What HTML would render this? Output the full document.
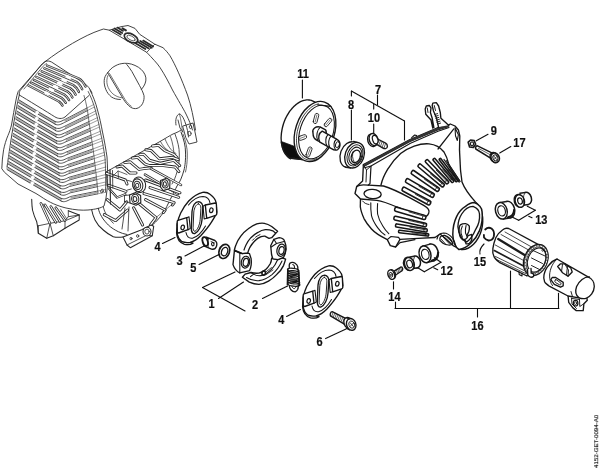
<!DOCTYPE html>
<html><head><meta charset="utf-8"><title>Parts diagram</title>
<style>
html,body{margin:0;padding:0;background:#fff;}
body{width:600px;height:472px;overflow:hidden;font-family:"Liberation Sans",sans-serif;}
svg{display:block;font-family:"Liberation Sans",sans-serif;}
</style></head><body>
<svg width="600" height="472" viewBox="0 0 600 472" stroke-linecap="round" stroke-linejoin="round">
<defs><filter id="soft" x="0" y="0" width="600" height="472" filterUnits="userSpaceOnUse"><feGaussianBlur stdDeviation="0.4"/></filter></defs>
<rect width="600" height="472" fill="#fff"/>
<g filter="url(#soft)">
<g id="cover">
<path d="M46,61 C60,50 85,35 100,30.2 L103.5,29 L109.3,30.2 L121,26.7 L128,25.5 L135,28.4 L139.7,34.3 L154.8,44.2 L163,47.7 C166,50.5 168,53 170,55.8 C175,64 182,80 187.5,95 C191,105 194,120 195.5,130" stroke="#333" stroke-width="0.92" fill="none" />
<path d="M109.3,30.2 L146.7,52.3 C152,58 157,63 160,67.5 C165,75 169,83 172.5,90 C178,100 183,108 186,114 C189,120 191,125 192.5,130" stroke="#333" stroke-width="0.92" fill="none" />
<path d="M146.7,52.3 L154.8,44.2" stroke="#333" stroke-width="0.8" fill="none" />
<path d="M112.5,29.8 l8.2,4.8" stroke="#2a2a2a" stroke-width="1.72" fill="none" />
<path d="M114.5,28.4 l7.7,4.6" stroke="#2a2a2a" stroke-width="1.72" fill="none" />
<path d="M117.5,27.6 l5.6,3.3" stroke="#2a2a2a" stroke-width="1.72" fill="none" />
<path d="M122.5,28.3 l3.4,2" stroke="#2a2a2a" stroke-width="2.07" fill="none" />
<ellipse cx="131" cy="38" rx="7.3" ry="4.0" stroke="#2a2a2a" stroke-width="1.72" fill="none" transform="rotate(27 131 38)"/>
<ellipse cx="131" cy="38" rx="4.6" ry="2.0" stroke="#2a2a2a" stroke-width="0.69" fill="none" transform="rotate(27 131 38)"/>
<path d="M135.5,43.2 l9.9,5.9" stroke="#2a2a2a" stroke-width="1.72" fill="none" />
<path d="M137.6,41.8 l11.2,6.6" stroke="#2a2a2a" stroke-width="1.72" fill="none" />
<path d="M140.2,40.9 l11.6,6.9" stroke="#2a2a2a" stroke-width="1.72" fill="none" />
<path d="M143.2,40.6 l9.9,5.9" stroke="#2a2a2a" stroke-width="1.72" fill="none" />
<path d="M107.7,72.8 C105.5,75 104.4,77.5 104.2,80.4 C104,83.5 104.6,86.5 105.8,89.4 C107,92.5 109,95 111.5,97 C114,98.6 117,99.5 120.4,99.5" stroke="#333" stroke-width="0.92" fill="none" />
<path d="M107.9,75.5 C106.6,78.5 106.6,82 107.3,85 C108.3,88.5 110.3,91.6 113,94 C115.5,96 118.5,97.3 121.8,97.8" stroke="#333" stroke-width="0.69" fill="none" />
<path d="M107.7,72.8 C109.5,70 112,67.5 115,66 C118,64.3 121,63.5 124.3,63.3 C129,63 134,64.5 138.5,67.3 C142.5,70 145.2,73.5 145.9,77.9 C146.3,82 144.5,86 141.4,89.4" stroke="#333" stroke-width="0.92" fill="none" />
<path d="M107.7,72.8 L123.6,99.5 C125.5,102.5 127.8,105.2 130.6,107.2 C132.8,108.6 135,108.9 137,108.4 C139.5,107.6 141.5,105.8 142.7,103.3 C143.8,101 144.3,98.5 144,95.7 C143,92 141.3,88.8 139.5,85.5 L131.9,71.5 C130.3,69 128.6,66.7 126.8,64.5" stroke="#333" stroke-width="0.92" fill="none" />
<path d="M109.5,73.5 L125.2,99.8 C127,102.6 129,104.8 131.2,106.2" stroke="#333" stroke-width="0.69" fill="none" />
<path d="M46,61 L42.5,64" stroke="#333" stroke-width="0.92" fill="none" />
<path d="M45.5,61.4 C47.5,60.6 49.5,61 51.5,62 L84.5,83.5 C87.5,85.5 90,88.5 92,93" stroke="#333" stroke-width="0.92" fill="none" />
<path d="M45.5,61.4 C44,62 43,63 42,64.2 L20.2,90.5 C19.3,92 19,93.5 19.3,95" stroke="#333" stroke-width="0.92" fill="none" />
<path d="M46.5,63.6 C44.8,64.4 43.6,65.6 42.8,66.6 L24,89 " stroke="#333" stroke-width="0.69" fill="none" />
<path d="M47.0,65.6 L79.0,78.5 Q82.5,80.3 85.5,86.5" stroke="#3a3a3a" stroke-width="2.42" fill="none" />
<path d="M47.0,65.6 L79.0,78.5 Q82.5,80.3 85.5,86.5" stroke="#e4e4e4" stroke-width="0.92" fill="none" />
<path d="M44.4,68.4 L76.1,81.8 Q79.4,83.6 82.2,89.2" stroke="#3a3a3a" stroke-width="2.42" fill="none" />
<path d="M44.4,68.4 L76.1,81.8 Q79.4,83.6 82.2,89.2" stroke="#e4e4e4" stroke-width="0.92" fill="none" />
<path d="M41.7,71.3 L73.3,85.1 Q76.4,86.9 78.9,91.9" stroke="#3a3a3a" stroke-width="2.42" fill="none" />
<path d="M41.7,71.3 L73.3,85.1 Q76.4,86.9 78.9,91.9" stroke="#e4e4e4" stroke-width="0.92" fill="none" />
<path d="M39.1,74.1 L70.4,88.4 Q73.3,90.2 75.6,94.6" stroke="#3a3a3a" stroke-width="2.42" fill="none" />
<path d="M39.1,74.1 L70.4,88.4 Q73.3,90.2 75.6,94.6" stroke="#e4e4e4" stroke-width="0.92" fill="none" />
<path d="M36.4,77.0 L67.6,91.6 Q70.3,93.4 72.4,97.4" stroke="#3a3a3a" stroke-width="2.42" fill="none" />
<path d="M36.4,77.0 L67.6,91.6 Q70.3,93.4 72.4,97.4" stroke="#e4e4e4" stroke-width="0.92" fill="none" />
<path d="M33.8,79.8 L64.7,94.9 Q67.2,96.7 69.1,100.1" stroke="#3a3a3a" stroke-width="2.42" fill="none" />
<path d="M33.8,79.8 L64.7,94.9 Q67.2,96.7 69.1,100.1" stroke="#e4e4e4" stroke-width="0.92" fill="none" />
<path d="M31.1,82.7 L61.9,98.2 Q64.2,100.0 65.8,102.8" stroke="#3a3a3a" stroke-width="2.42" fill="none" />
<path d="M31.1,82.7 L61.9,98.2 Q64.2,100.0 65.8,102.8" stroke="#e4e4e4" stroke-width="0.92" fill="none" />
<path d="M28.5,85.5 L59.0,101.5 Q61.1,103.3 62.5,105.5" stroke="#3a3a3a" stroke-width="2.42" fill="none" />
<path d="M28.5,85.5 L59.0,101.5 Q61.1,103.3 62.5,105.5" stroke="#e4e4e4" stroke-width="0.92" fill="none" />
<path d="M66.9,76.4 L69.7,77.7" stroke="#fff" stroke-width="2.99" fill="none" />
<path d="M62.7,79.7 L65.5,81.0" stroke="#fff" stroke-width="2.99" fill="none" />
<path d="M58.4,82.9 L61.2,84.2" stroke="#fff" stroke-width="2.99" fill="none" />
<path d="M54.2,86.2 L57.0,87.5" stroke="#fff" stroke-width="2.99" fill="none" />
<path d="M49.9,89.4 L52.7,90.7" stroke="#fff" stroke-width="2.99" fill="none" />
<path d="M45.7,92.7 L48.5,94.0" stroke="#fff" stroke-width="2.99" fill="none" />
<path d="M19.3,95 C26,99 48,112.5 54.8,116.8 C58,118.8 62,119.2 65,117 L89,95.5" stroke="#333" stroke-width="0.92" fill="none" />
<path d="M42,64.2 L18.2,91.5 C17.2,94 16.5,97 16,100 C14.5,108 12.8,117 11.5,125 C10.5,129 9.3,132.5 8,135.4 C6,140 4.6,145 3.6,149.8 C2.6,156 2,162 1.8,168.7 L4.5,172.3 L18,184 L36,193.5 L40,196 C50,203 58,206 66,208 C75,210 82,210.5 88,210 C96,209.2 101,208 104,206 L106,198 L107.5,186" stroke="#333" stroke-width="0.92" fill="none" />
<path d="M19.3,95 C16.5,106 13.5,124 11,140 C9.5,150 8,160 7,167" stroke="#333" stroke-width="0.92" fill="none" />
<path d="M90,90 C93,96 95.5,102 97.5,110 C99.5,117 101,124 102.5,132 C104.5,141 106,150 107,157 C107.6,166 107.8,176 107.5,186" stroke="#333" stroke-width="0.92" fill="none" />
<path d="M88.2,91.5 C91,97 93.5,103 95.6,111 C97.6,118 99.1,125 100.6,133 C102.6,142 104,151 105,158 C105.6,167 105.8,176 105.5,192" stroke="#333" stroke-width="0.8" fill="none" />
<path d="M18.8,101.3 Q37.1,112.5 55.0,122.8" stroke="#b4b4b4" stroke-width="2.07" fill="none" />
<path d="M19.1,100.0 Q37.1,111.2 55.0,121.5" stroke="#262626" stroke-width="0.8" fill="none" />
<path d="M18.6,102.6 Q37.1,113.8 55.0,124.1" stroke="#262626" stroke-width="0.8" fill="none" />
<path d="M55.0,121.5 C58.5,123.1 61.0,121.3 64.5,119.7 L86.8,108.1" stroke="#262626" stroke-width="0.8" fill="none" />
<path d="M55.0,124.3 C58.5,125.9 61.0,124.1 64.5,122.5 L86.8,110.9" stroke="#262626" stroke-width="0.8" fill="none" />
<path d="M64.5,121.1 L86.8,109.5" stroke="#a8a8a8" stroke-width="1.95" fill="none" stroke-linecap="butt"/>
<path d="M86.8,108.1 L93.8,104.5" stroke="#555" stroke-width="0.57" fill="none" />
<path d="M86.8,110.9 L93.8,107.3" stroke="#555" stroke-width="0.57" fill="none" />
<path d="M17.9,106.9 Q36.8,118.5 55.5,129.2" stroke="#b4b4b4" stroke-width="2.07" fill="none" />
<path d="M18.2,105.6 Q36.8,117.2 55.5,127.9" stroke="#262626" stroke-width="0.8" fill="none" />
<path d="M17.7,108.2 Q36.8,119.8 55.5,130.5" stroke="#262626" stroke-width="0.8" fill="none" />
<path d="M55.5,127.9 C59.0,129.5 61.5,127.7 65.0,126.1 L87.8,114.9" stroke="#262626" stroke-width="0.8" fill="none" />
<path d="M55.5,130.7 C59.0,132.3 61.5,130.5 65.0,128.9 L87.8,117.7" stroke="#262626" stroke-width="0.8" fill="none" />
<path d="M65.0,127.5 L87.8,116.3" stroke="#a8a8a8" stroke-width="1.95" fill="none" stroke-linecap="butt"/>
<path d="M87.8,114.9 L96.0,110.8" stroke="#555" stroke-width="0.57" fill="none" />
<path d="M87.8,117.7 L96.0,113.6" stroke="#555" stroke-width="0.57" fill="none" />
<path d="M16.9,112.5 Q36.6,124.5 56.0,135.6" stroke="#b4b4b4" stroke-width="2.07" fill="none" />
<path d="M17.2,111.2 Q36.6,123.2 56.0,134.3" stroke="#262626" stroke-width="0.8" fill="none" />
<path d="M16.7,113.8 Q36.6,125.8 56.0,136.9" stroke="#262626" stroke-width="0.8" fill="none" />
<path d="M56.0,134.3 C59.5,135.9 62.0,134.1 65.5,132.5 L88.8,121.7" stroke="#262626" stroke-width="0.8" fill="none" />
<path d="M56.0,137.1 C59.5,138.7 62.0,136.9 65.5,135.3 L88.8,124.5" stroke="#262626" stroke-width="0.8" fill="none" />
<path d="M65.5,133.9 L88.8,123.1" stroke="#a8a8a8" stroke-width="1.95" fill="none" stroke-linecap="butt"/>
<path d="M88.8,121.7 L97.5,117.6" stroke="#555" stroke-width="0.57" fill="none" />
<path d="M88.8,124.5 L97.5,120.4" stroke="#555" stroke-width="0.57" fill="none" />
<path d="M16.0,118.0 Q36.4,130.5 56.5,142.0" stroke="#b4b4b4" stroke-width="2.07" fill="none" />
<path d="M16.3,116.7 Q36.4,129.2 56.5,140.7" stroke="#262626" stroke-width="0.8" fill="none" />
<path d="M15.8,119.3 Q36.4,131.8 56.5,143.3" stroke="#262626" stroke-width="0.8" fill="none" />
<path d="M56.5,140.7 C60.0,142.3 62.5,140.5 66.0,138.9 L89.5,128.6" stroke="#262626" stroke-width="0.8" fill="none" />
<path d="M56.5,143.5 C60.0,145.1 62.5,143.3 66.0,141.7 L89.5,131.4" stroke="#262626" stroke-width="0.8" fill="none" />
<path d="M66.0,140.3 L89.5,130.0" stroke="#a8a8a8" stroke-width="1.95" fill="none" stroke-linecap="butt"/>
<path d="M89.5,128.6 L99.0,124.4" stroke="#555" stroke-width="0.57" fill="none" />
<path d="M89.5,131.4 L99.0,127.2" stroke="#555" stroke-width="0.57" fill="none" />
<path d="M15.0,123.6 Q36.2,136.5 57.0,148.4" stroke="#b4b4b4" stroke-width="2.07" fill="none" />
<path d="M15.3,122.3 Q36.2,135.2 57.0,147.1" stroke="#262626" stroke-width="0.8" fill="none" />
<path d="M14.8,124.9 Q36.2,137.8 57.0,149.7" stroke="#262626" stroke-width="0.8" fill="none" />
<path d="M57.0,147.1 C60.5,148.7 63.0,146.9 66.5,145.3 L90.5,135.4" stroke="#262626" stroke-width="0.8" fill="none" />
<path d="M57.0,149.9 C60.5,151.5 63.0,149.7 66.5,148.1 L90.5,138.2" stroke="#262626" stroke-width="0.8" fill="none" />
<path d="M66.5,146.7 L90.5,136.8" stroke="#a8a8a8" stroke-width="1.95" fill="none" stroke-linecap="butt"/>
<path d="M90.5,135.4 L100.8,131.1" stroke="#555" stroke-width="0.57" fill="none" />
<path d="M90.5,138.2 L100.8,133.9" stroke="#555" stroke-width="0.57" fill="none" />
<path d="M14.0,129.2 Q35.9,142.5 57.5,154.8" stroke="#b4b4b4" stroke-width="2.07" fill="none" />
<path d="M14.3,127.9 Q35.9,141.2 57.5,153.5" stroke="#262626" stroke-width="0.8" fill="none" />
<path d="M13.8,130.5 Q35.9,143.8 57.5,156.1" stroke="#262626" stroke-width="0.8" fill="none" />
<path d="M57.5,153.5 C61.0,155.1 63.5,153.3 67.0,151.7 L91.2,142.3" stroke="#262626" stroke-width="0.8" fill="none" />
<path d="M57.5,156.3 C61.0,157.9 63.5,156.1 67.0,154.5 L91.2,145.1" stroke="#262626" stroke-width="0.8" fill="none" />
<path d="M67.0,153.1 L91.2,143.7" stroke="#a8a8a8" stroke-width="1.95" fill="none" stroke-linecap="butt"/>
<path d="M91.2,142.3 L102.0,138.2" stroke="#555" stroke-width="0.57" fill="none" />
<path d="M91.2,145.1 L102.0,141.0" stroke="#555" stroke-width="0.57" fill="none" />
<path d="M13.1,134.8 Q35.7,148.5 58.0,161.2" stroke="#b4b4b4" stroke-width="2.07" fill="none" />
<path d="M13.4,133.5 Q35.7,147.2 58.0,159.9" stroke="#262626" stroke-width="0.8" fill="none" />
<path d="M12.9,136.1 Q35.7,149.8 58.0,162.5" stroke="#262626" stroke-width="0.8" fill="none" />
<path d="M58.0,159.9 C61.5,161.5 64.0,159.7 67.5,158.1 L92.2,149.2" stroke="#262626" stroke-width="0.8" fill="none" />
<path d="M58.0,162.7 C61.5,164.3 64.0,162.5 67.5,160.9 L92.2,152.0" stroke="#262626" stroke-width="0.8" fill="none" />
<path d="M67.5,159.5 L92.2,150.6" stroke="#a8a8a8" stroke-width="1.95" fill="none" stroke-linecap="butt"/>
<path d="M92.2,149.2 L103.2,145.2" stroke="#555" stroke-width="0.57" fill="none" />
<path d="M92.2,152.0 L103.2,148.0" stroke="#555" stroke-width="0.57" fill="none" />
<path d="M12.1,140.4 Q35.5,154.5 58.5,167.6" stroke="#b4b4b4" stroke-width="2.07" fill="none" />
<path d="M12.4,139.1 Q35.5,153.2 58.5,166.3" stroke="#262626" stroke-width="0.8" fill="none" />
<path d="M11.9,141.7 Q35.5,155.8 58.5,168.9" stroke="#262626" stroke-width="0.8" fill="none" />
<path d="M58.5,166.3 C62.0,167.9 64.5,166.1 68.0,164.5 L93.0,156.2" stroke="#262626" stroke-width="0.8" fill="none" />
<path d="M58.5,169.1 C62.0,170.7 64.5,168.9 68.0,167.3 L93.0,159.0" stroke="#262626" stroke-width="0.8" fill="none" />
<path d="M68.0,165.9 L93.0,157.6" stroke="#a8a8a8" stroke-width="1.95" fill="none" stroke-linecap="butt"/>
<path d="M93.0,156.2 L104.5,152.3" stroke="#555" stroke-width="0.57" fill="none" />
<path d="M93.0,159.0 L104.5,155.1" stroke="#555" stroke-width="0.57" fill="none" />
<path d="M11.2,145.9 Q35.2,160.5 59.0,174.0" stroke="#b4b4b4" stroke-width="2.07" fill="none" />
<path d="M11.5,144.6 Q35.2,159.2 59.0,172.7" stroke="#262626" stroke-width="0.8" fill="none" />
<path d="M11.0,147.2 Q35.2,161.8 59.0,175.3" stroke="#262626" stroke-width="0.8" fill="none" />
<path d="M59.0,172.7 C62.5,174.3 65.0,172.5 68.5,170.9 L94.0,163.1" stroke="#262626" stroke-width="0.8" fill="none" />
<path d="M59.0,175.5 C62.5,177.1 65.0,175.3 68.5,173.7 L94.0,165.9" stroke="#262626" stroke-width="0.8" fill="none" />
<path d="M68.5,172.3 L94.0,164.5" stroke="#a8a8a8" stroke-width="1.95" fill="none" stroke-linecap="butt"/>
<path d="M94.0,163.1 L105.5,159.6" stroke="#555" stroke-width="0.57" fill="none" />
<path d="M94.0,165.9 L105.5,162.4" stroke="#555" stroke-width="0.57" fill="none" />
<path d="M10.2,151.5 Q35.0,166.5 59.5,180.4" stroke="#b4b4b4" stroke-width="2.07" fill="none" />
<path d="M10.5,150.2 Q35.0,165.2 59.5,179.1" stroke="#262626" stroke-width="0.8" fill="none" />
<path d="M10.0,152.8 Q35.0,167.8 59.5,181.7" stroke="#262626" stroke-width="0.8" fill="none" />
<path d="M59.5,179.1 C63.0,180.7 65.5,178.9 69.0,177.3 L94.8,170.1" stroke="#262626" stroke-width="0.8" fill="none" />
<path d="M59.5,181.9 C63.0,183.5 65.5,181.7 69.0,180.1 L94.8,172.9" stroke="#262626" stroke-width="0.8" fill="none" />
<path d="M69.0,178.7 L94.8,171.5" stroke="#a8a8a8" stroke-width="1.95" fill="none" stroke-linecap="butt"/>
<path d="M94.8,170.1 L105.8,167.0" stroke="#555" stroke-width="0.57" fill="none" />
<path d="M94.8,172.9 L105.8,169.8" stroke="#555" stroke-width="0.57" fill="none" />
<path d="M9.2,157.1 Q34.8,172.5 60.0,186.8" stroke="#b4b4b4" stroke-width="2.07" fill="none" />
<path d="M9.5,155.8 Q34.8,171.2 60.0,185.5" stroke="#262626" stroke-width="0.8" fill="none" />
<path d="M9.0,158.4 Q34.8,173.8 60.0,188.1" stroke="#262626" stroke-width="0.8" fill="none" />
<path d="M60.0,185.5 C63.5,187.1 66.0,185.3 69.5,183.7 L95.8,177.1" stroke="#262626" stroke-width="0.8" fill="none" />
<path d="M60.0,188.3 C63.5,189.9 66.0,188.1 69.5,186.5 L95.8,179.9" stroke="#262626" stroke-width="0.8" fill="none" />
<path d="M69.5,185.1 L95.8,178.5" stroke="#a8a8a8" stroke-width="1.95" fill="none" stroke-linecap="butt"/>
<path d="M95.8,177.1 L106.0,174.5" stroke="#555" stroke-width="0.57" fill="none" />
<path d="M95.8,179.9 L106.0,177.3" stroke="#555" stroke-width="0.57" fill="none" />
<path d="M8.3,162.7 Q34.5,178.4 60.5,193.2" stroke="#b4b4b4" stroke-width="2.07" fill="none" />
<path d="M8.6,161.4 Q34.5,177.1 60.5,191.9" stroke="#262626" stroke-width="0.8" fill="none" />
<path d="M8.1,164.0 Q34.5,179.7 60.5,194.5" stroke="#262626" stroke-width="0.8" fill="none" />
<path d="M60.5,191.9 C64.0,193.5 66.5,191.7 70.0,190.1 L96.8,184.0" stroke="#262626" stroke-width="0.8" fill="none" />
<path d="M60.5,194.7 C64.0,196.3 66.5,194.5 70.0,192.9 L96.8,186.8" stroke="#262626" stroke-width="0.8" fill="none" />
<path d="M70.0,191.5 L96.8,185.4" stroke="#a8a8a8" stroke-width="1.95" fill="none" stroke-linecap="butt"/>
<path d="M96.8,184.0 L106.0,181.9" stroke="#555" stroke-width="0.57" fill="none" />
<path d="M96.8,186.8 L106.0,184.7" stroke="#555" stroke-width="0.57" fill="none" />
<path d="M7.3,168.3 Q34.3,184.4 61.0,199.6" stroke="#b4b4b4" stroke-width="2.07" fill="none" />
<path d="M7.6,167.0 Q34.3,183.1 61.0,198.3" stroke="#262626" stroke-width="0.8" fill="none" />
<path d="M7.1,169.6 Q34.3,185.7 61.0,200.9" stroke="#262626" stroke-width="0.8" fill="none" />
<path d="M61.0,198.3 C64.5,199.9 67.0,198.1 70.5,196.5 L97.5,191.1" stroke="#262626" stroke-width="0.8" fill="none" />
<path d="M61.0,201.1 C64.5,202.7 67.0,200.9 70.5,199.3 L97.5,193.9" stroke="#262626" stroke-width="0.8" fill="none" />
<path d="M70.5,197.9 L97.5,192.5" stroke="#a8a8a8" stroke-width="1.95" fill="none" stroke-linecap="butt"/>
<path d="M97.5,191.1 L106.0,189.4" stroke="#555" stroke-width="0.57" fill="none" />
<path d="M97.5,193.9 L106.0,192.2" stroke="#555" stroke-width="0.57" fill="none" />
<path d="M35.7,111.8 L38.5,113.5" stroke="#fff" stroke-width="3.22" fill="none" stroke-linecap="butt"/>
<path d="M35.3,117.7 L38.1,119.4" stroke="#fff" stroke-width="3.22" fill="none" stroke-linecap="butt"/>
<path d="M34.9,123.6 L37.7,125.3" stroke="#fff" stroke-width="3.22" fill="none" stroke-linecap="butt"/>
<path d="M34.5,129.5 L37.3,131.2" stroke="#fff" stroke-width="3.22" fill="none" stroke-linecap="butt"/>
<path d="M34.1,135.4 L36.9,137.1" stroke="#fff" stroke-width="3.22" fill="none" stroke-linecap="butt"/>
<path d="M33.7,141.3 L36.5,143.0" stroke="#fff" stroke-width="3.22" fill="none" stroke-linecap="butt"/>
<path d="M33.3,147.1 L36.1,148.8" stroke="#fff" stroke-width="3.22" fill="none" stroke-linecap="butt"/>
<path d="M32.9,153.0 L35.7,154.7" stroke="#fff" stroke-width="3.22" fill="none" stroke-linecap="butt"/>
<path d="M32.5,158.9 L35.3,160.6" stroke="#fff" stroke-width="3.22" fill="none" stroke-linecap="butt"/>
<path d="M32.1,164.8 L34.9,166.5" stroke="#fff" stroke-width="3.22" fill="none" stroke-linecap="butt"/>
<path d="M31.7,170.7 L34.5,172.4" stroke="#fff" stroke-width="3.22" fill="none" stroke-linecap="butt"/>
<path d="M31.3,176.6 L34.1,178.3" stroke="#fff" stroke-width="3.22" fill="none" stroke-linecap="butt"/>
<path d="M30.9,182.5 L33.7,184.2" stroke="#fff" stroke-width="3.22" fill="none" stroke-linecap="butt"/>
<path d="M84,95.5 C86.5,104 88,112 89,122 C91,135 93.5,150 95,165 C96.5,178 97.5,186 98,193" stroke="#333" stroke-width="0.69" fill="none" />
<ellipse cx="102" cy="191" rx="1.2" ry="2.0" stroke="#333" stroke-width="0.8" fill="none" transform="rotate(20 102 191)"/>
<path d="M106,172 L160,141.5 C166,138 170,135.5 173,134 C177,132.5 180,131 181,130" stroke="#333" stroke-width="0.92" fill="none" />
<path d="M107,186 L106.5,172" stroke="#333" stroke-width="0.92" fill="none" />
<path d="M110,170 L110.5,204" stroke="#333" stroke-width="0.8" fill="none" />
<path d="M178,120 L180,128 L183,132 M183,126 L193,123 L195,132 L197,142 L189,144 L186,138 Z" stroke="#333" stroke-width="0.92" fill="none" />
<ellipse cx="189.5" cy="133.5" rx="1.6" ry="2.3" stroke="#333" stroke-width="0.8" fill="none" transform="rotate(-10 189.5 133.5)"/>
<ellipse cx="190.5" cy="127" rx="1.2" ry="1.7" stroke="#333" stroke-width="0.8" fill="none" transform="rotate(-10 190.5 127)"/>
<path d="M176,125 C175,120 176.5,114.5 179.5,114 C182.5,114.5 185.5,122 187.5,130.5 L188.5,137" stroke="#333" stroke-width="0.92" fill="none" />
<path d="M179.5,114 C181,120 182,126 182.3,132" stroke="#333" stroke-width="0.69" fill="none" />
</g>
<g id="engine">
<path d="M181,132 C184,140 185.5,146 185.5,152 C185.8,160 185,166 184,170 C182,177 180,182 177,186 C174,192 170,200 165,210 C160,218 155,223 150,227" stroke="#262626" stroke-width="0.92" fill="none" />
<path d="M175,134 C178,142 179.3,148 179.3,154 C179.4,162 178.5,168 177,172 C175.5,177 174,181 172,184" stroke="#262626" stroke-width="0.8" fill="none" />
<path d="M170.5,136.5 C173,144 174,150 174,156" stroke="#262626" stroke-width="0.69" fill="none" />
<path d="M183,134 C186,142 187.3,148 187.3,154 C187.4,162 186.5,168 185.5,172" stroke="#262626" stroke-width="0.69" fill="none" />
<path d="M91.7,210 C92.5,214 93.5,217 95,220 C97,224 100,227.5 103.3,230 C106.5,233 110,235 113.3,236.7 C116,237.4 119.5,237.4 123,237" stroke="#262626" stroke-width="1.03" fill="none" />
<path d="M98.3,208.3 C99,211.5 100,214 101.7,216.7 C103.5,220 106,222.5 108.3,225 C111.5,228 115,230 118.3,231.7 C121,233 124,234 127,234.5" stroke="#262626" stroke-width="0.92" fill="none" />
<path d="M103.3,206.7 C104,210 105,212.5 106.7,215 C108.5,218 111,221 113.3,223.3" stroke="#262626" stroke-width="0.8" fill="none" />
<path d="M152.6,146 L158.6,145.3 L164.7,150.6 L173.7,154.3 L177,157.5" stroke="#262626" stroke-width="2.99" fill="none" /><path d="M152.6,146 L158.6,145.3 L164.7,150.6 L173.7,154.3 L177,157.5" stroke="#fff" stroke-width="1.26" fill="none" />
<path d="M145.9,149.8 L151.1,150.6 L156.4,155.8 L159.4,158.8 L172.2,157.3 L178.2,159.6" stroke="#262626" stroke-width="2.99" fill="none" /><path d="M145.9,149.8 L151.1,150.6 L156.4,155.8 L159.4,158.8 L172.2,157.3 L178.2,159.6" stroke="#fff" stroke-width="1.26" fill="none" />
<path d="M139.8,154.3 L143.6,154.3 L149.6,160.3 L160.2,163.3 L173.7,160.3 L179.7,165.6" stroke="#262626" stroke-width="2.99" fill="none" /><path d="M139.8,154.3 L143.6,154.3 L149.6,160.3 L160.2,163.3 L173.7,160.3 L179.7,165.6" stroke="#fff" stroke-width="1.26" fill="none" />
<path d="M132.3,158.1 L137.6,157.3 L145.1,164.1 L149.6,165.6 L163.2,165.6 L175.2,167.1 L178.9,171.6" stroke="#262626" stroke-width="2.99" fill="none" /><path d="M132.3,158.1 L137.6,157.3 L145.1,164.1 L149.6,165.6 L163.2,165.6 L175.2,167.1 L178.9,171.6" stroke="#fff" stroke-width="1.26" fill="none" />
<path d="M124.8,162.6 L130.1,161.8 L139.1,169.4 L143.6,168.6 L151.1,167.8" stroke="#262626" stroke-width="2.99" fill="none" /><path d="M124.8,162.6 L130.1,161.8 L139.1,169.4 L143.6,168.6 L151.1,167.8" stroke="#fff" stroke-width="1.26" fill="none" />
<path d="M117,167 L122,166 L130,173 L136,173" stroke="#262626" stroke-width="2.99" fill="none" /><path d="M117,167 L122,166 L130,173 L136,173" stroke="#fff" stroke-width="1.26" fill="none" />
<path d="M165,139 C168,146 171,151 176,153.5" stroke="#262626" stroke-width="0.69" fill="none" />
<path d="M160.5,141.5 C163,146 165,148.5 168,150.5" stroke="#262626" stroke-width="0.69" fill="none" />
<path d="M145,174.6 L178,194" stroke="#262626" stroke-width="2.53" fill="none" /><path d="M145,174.6 L178,194" stroke="#fff" stroke-width="1.03" fill="none" />
<path d="M151,168.6 L181,185" stroke="#262626" stroke-width="2.53" fill="none" /><path d="M151,168.6 L181,185" stroke="#fff" stroke-width="1.03" fill="none" />
<path d="M106.5,173.3 L125.3,180 L127,184" stroke="#262626" stroke-width="2.99" fill="none" /><path d="M106.5,173.3 L125.3,180 L127,184" stroke="#fff" stroke-width="1.26" fill="none" />
<path d="M108.8,185.3 L126,191.3" stroke="#262626" stroke-width="2.99" fill="none" /><path d="M108.8,185.3 L126,191.3" stroke="#fff" stroke-width="1.26" fill="none" />
<path d="M109,188.5 L117,197.5 L125.3,194.3" stroke="#262626" stroke-width="2.3" fill="none" /><path d="M109,188.5 L117,197.5 L125.3,194.3" stroke="#fff" stroke-width="0.92" fill="none" />
<path d="M107.3,199.6 L120,210 L126.8,201.8" stroke="#262626" stroke-width="2.99" fill="none" /><path d="M107.3,199.6 L120,210 L126.8,201.8" stroke="#fff" stroke-width="1.26" fill="none" />
<path d="M104.3,214.6 L115.6,220.6 L127.6,210" stroke="#262626" stroke-width="2.99" fill="none" /><path d="M104.3,214.6 L115.6,220.6 L127.6,210" stroke="#fff" stroke-width="1.26" fill="none" />
<path d="M110,170 L110.5,204 M112.5,170.5 L112.8,188" stroke="#262626" stroke-width="0.8" fill="none" />
<path d="M113,176 L118,171 L127,174.5 M118,171 L118.5,177.5" stroke="#262626" stroke-width="0.69" fill="none" />
<path d="M145.6,180 L180,192.8" stroke="#262626" stroke-width="2.99" fill="none" /><path d="M145.6,180 L180,192.8" stroke="#fff" stroke-width="1.26" fill="none" />
<path d="M150,187.6 L178.7,197.3" stroke="#262626" stroke-width="2.99" fill="none" /><path d="M150,187.6 L178.7,197.3" stroke="#fff" stroke-width="1.26" fill="none" />
<path d="M144,193.6 L174.2,202.6 L172.5,205" stroke="#262626" stroke-width="2.99" fill="none" /><path d="M144,193.6 L174.2,202.6 L172.5,205" stroke="#fff" stroke-width="1.26" fill="none" />
<path d="M145.6,199.6 L165.2,210 L163.5,212.5" stroke="#262626" stroke-width="2.99" fill="none" /><path d="M145.6,199.6 L165.2,210 L163.5,212.5" stroke="#fff" stroke-width="1.26" fill="none" />
<path d="M139.6,204 L156,217.6 L150.5,225" stroke="#262626" stroke-width="2.99" fill="none" /><path d="M139.6,204 L156,217.6 L150.5,225" stroke="#fff" stroke-width="1.26" fill="none" />
<path d="M133.6,207.8 L142.6,225" stroke="#262626" stroke-width="2.99" fill="none" /><path d="M133.6,207.8 L142.6,225" stroke="#fff" stroke-width="1.26" fill="none" />
<path d="M129,207 L128,231 M125,208 L122,229" stroke="#262626" stroke-width="0.8" fill="none" />
<path d="M156,217.6 L165.2,210 M165.2,210 L174.2,202.6" stroke="#262626" stroke-width="0.57" fill="none" />
<ellipse cx="139.2" cy="184.8" rx="6.4" ry="7.8" stroke="#262626" stroke-width="1.03" fill="#fff" transform="rotate(-15 139.2 184.8)"/>
<ellipse cx="137.8" cy="185.2" rx="5.0" ry="6.4" stroke="#262626" stroke-width="1.03" fill="#fff" transform="rotate(-15 137.8 185.2)"/>
<ellipse cx="137.4" cy="185.4" rx="3.2" ry="4.2" stroke="#262626" stroke-width="1.03" fill="#fff" transform="rotate(-15 137.4 185.4)"/>
<ellipse cx="137.2" cy="185.5" rx="1.6" ry="2.2" stroke="#262626" stroke-width="0.92" fill="none" transform="rotate(-15 137.2 185.5)"/>
<path d="M131.5,181.5 L127,180.2 M131.3,189 L127.5,190" stroke="#262626" stroke-width="0.8" fill="none" />
<path d="M129.5,195 L135.5,192.6 L140.6,195.5 L140.8,202.5 L136,205.3 L130,203 Z" stroke="#262626" stroke-width="1.15" fill="#fff" />
<ellipse cx="135.2" cy="198.9" rx="3.6" ry="4.6" stroke="#262626" stroke-width="1.03" fill="#fff" transform="rotate(-10 135.2 198.9)"/>
<ellipse cx="135.0" cy="199.0" rx="1.8" ry="2.6" stroke="#262626" stroke-width="1.03" fill="none" transform="rotate(-10 135.0 199.0)"/>
<path d="M124.5,195.5 L129.5,195 M124.5,201.5 L130,203 M124.5,195.5 L124.5,201.5" stroke="#262626" stroke-width="0.8" fill="none" />
<path d="M160.5,180.5 L167,178 L170,181.5 L169.6,188.5 L163.2,190.6 L160.5,187 Z" stroke="#262626" stroke-width="1.15" fill="#fff" />
<ellipse cx="165.0" cy="183.9" rx="3.1" ry="4.1" stroke="#262626" stroke-width="1.03" fill="#fff" transform="rotate(-10 165.0 183.9)"/>
<ellipse cx="164.9" cy="184.0" rx="1.5" ry="2.2" stroke="#262626" stroke-width="1.03" fill="none" transform="rotate(-10 164.9 184.0)"/>
<path d="M123,237 L127,245 L130.3,247.7 L152.3,235.7 L153.7,226.3 L151,225 L141.7,229.7 Z" stroke="#262626" stroke-width="1.03" fill="#fff" />
<path d="M127,245 L146.5,235.3 M146.5,235.3 L152.3,235.7" stroke="#262626" stroke-width="0.8" fill="none" />
<ellipse cx="131" cy="238.6" rx="1.0" ry="1.3" stroke="#262626" stroke-width="0.8" fill="none"/>
<ellipse cx="137.7" cy="236" rx="1.1" ry="1.4" stroke="#262626" stroke-width="0.8" fill="none"/>
<ellipse cx="147" cy="231.6" rx="4.0" ry="4.4" stroke="#262626" stroke-width="1.03" fill="#fff"/>
<ellipse cx="147" cy="231.6" rx="2.2" ry="2.5" stroke="#262626" stroke-width="0.8" fill="none"/>
<path d="M31.7,199.2 C31.8,203 32,207 32.5,210 C33.5,214 35,218 36.7,221.7 C37.5,225.5 38,229.5 38.3,233.3 L46.7,238.3 L53.3,235.8 L65,228.3 L79.2,220 L79.2,215 L68.3,210.8" stroke="#262626" stroke-width="1.03" fill="none" />
<path d="M38.3,225.8 L50,223.3 L65,220.8 L79.2,215 M38.3,225.8 L38.3,233.3 M50,223.3 L53.3,235.8 M50,223.3 L46.7,238.3 M65,220.8 L65,228.3" stroke="#262626" stroke-width="0.8" fill="none" />
<path d="M68.3,210.8 L68.3,216.7 L79.2,215 M68.3,216.7 L65,220.8" stroke="#262626" stroke-width="0.8" fill="none" />
<path d="M40.8,203.3 L50,223.3" stroke="#262626" stroke-width="2.53" fill="none" /><path d="M40.8,203.3 L50,223.3" stroke="#fff" stroke-width="1.03" fill="none" />
<path d="M45,204.8 L55.8,222.3" stroke="#262626" stroke-width="2.53" fill="none" /><path d="M45,204.8 L55.8,222.3" stroke="#fff" stroke-width="1.03" fill="none" />
<path d="M50.8,206.5 L60,221.5" stroke="#262626" stroke-width="2.53" fill="none" /><path d="M50.8,206.5 L60,221.5" stroke="#fff" stroke-width="1.03" fill="none" />
<path d="M55.8,207.7 L65,220.5" stroke="#262626" stroke-width="2.53" fill="none" /><path d="M55.8,207.7 L65,220.5" stroke="#fff" stroke-width="1.03" fill="none" />
<path d="M60.5,209 L66.5,218.5 M43,203.8 L44.5,207" stroke="#262626" stroke-width="0.69" fill="none" />
</g>
<g id="plate4a"><path d="M177.3,223.7 L176.6,233 C177,238.5 180,243 184.5,244.3 C188,245 191,244.5 193,243.2 L190,242.3" stroke="#161616" stroke-width="1.35" fill="#fff" />
<path d="M202.7,192.3 C206,192 208.5,193 210,194.3 C213.5,197 215.5,199.5 216,202.3 L216.8,212 C215.8,215.5 213.5,219 211.3,222.3 C208,227.5 204.5,231.5 200.7,235.7 C197,239.5 193.5,241.5 190,242.3 C187,242.8 184.5,242.6 182,241.7 C179.5,240 178,237.5 177.3,234.3 L177.3,223.7 C178,220 179,216.5 180.7,213 C183,208.5 185.5,204.5 188.7,201 C193,196.5 198,193.5 202.7,192.3 Z" stroke="#161616" stroke-width="1.35" fill="#fff" />
<path d="M188.5,205 C193,199.5 198.5,196.5 203,196.5 C207,196.8 209.5,199.5 210,203 M186,232.5 C186.8,236.5 189.5,238.6 192.5,238.2 C197,237 202,232 205.5,226" stroke="#161616" stroke-width="1.08" fill="none" />
<path d="M198.7,201.7 C201.5,202.3 202.9,204.8 202.8,207.7 L202,219.7 C201.5,226 198.5,232.2 194.7,233.7 C192.3,233.5 191.2,230.8 191.3,227.7 L192,211.7 C192.6,206.5 195,202 198.7,201.7 Z" stroke="#161616" stroke-width="1.35" fill="#fff" />
<path d="M198.4,203.8 C200.3,204.4 201,206.3 200.9,208.4 L200.2,219.4 C199.8,224.6 197.6,229.8 194.9,231.5 C193.6,231.2 193,229.4 193.1,227.4 L193.8,212 C194.3,207.8 196,204.4 198.4,203.8 Z" stroke="#161616" stroke-width="0.94" fill="none" />
<path d="M205.3,205 L215.3,203 C216.2,203 216.4,203.8 216.4,204.5 L216.8,213.8 C216.6,214.8 216.2,215.2 215.6,215.4 L206.7,218.3 Z" stroke="#161616" stroke-width="1.35" fill="#fff" />
<ellipse cx="211.3" cy="210.3" rx="1.7" ry="2.4" stroke="#161616" stroke-width="1.22" fill="none" transform="rotate(15 211.3 210.3)"/>
<path d="M205.3,205 L203,206.2 L204.2,219 L206.7,218.3" stroke="#161616" stroke-width="1.08" fill="none" />
<path d="M178,220.3 L186.7,217.7 L188,229.7 L178.7,233 C177.8,233 177.4,232.5 177.3,231.6 L177.2,221.5 C177.3,220.8 177.6,220.4 178,220.3 Z" stroke="#161616" stroke-width="1.35" fill="#fff" />
<ellipse cx="182.7" cy="227.4" rx="1.7" ry="2.4" stroke="#161616" stroke-width="1.22" fill="none" transform="rotate(15 182.7 227.4)"/>
<path d="M186.7,217.7 L189,216.8 L190.3,228.6 L188,229.7" stroke="#161616" stroke-width="1.08" fill="none" /></g>
<g id="plate4b" transform="translate(126,73.5)"><path d="M177.3,223.7 L176.6,233 C177,238.5 180,243 184.5,244.3 C188,245 191,244.5 193,243.2 L190,242.3" stroke="#161616" stroke-width="1.35" fill="#fff" />
<path d="M202.7,192.3 C206,192 208.5,193 210,194.3 C213.5,197 215.5,199.5 216,202.3 L216.8,212 C215.8,215.5 213.5,219 211.3,222.3 C208,227.5 204.5,231.5 200.7,235.7 C197,239.5 193.5,241.5 190,242.3 C187,242.8 184.5,242.6 182,241.7 C179.5,240 178,237.5 177.3,234.3 L177.3,223.7 C178,220 179,216.5 180.7,213 C183,208.5 185.5,204.5 188.7,201 C193,196.5 198,193.5 202.7,192.3 Z" stroke="#161616" stroke-width="1.35" fill="#fff" />
<path d="M188.5,205 C193,199.5 198.5,196.5 203,196.5 C207,196.8 209.5,199.5 210,203 M186,232.5 C186.8,236.5 189.5,238.6 192.5,238.2 C197,237 202,232 205.5,226" stroke="#161616" stroke-width="1.08" fill="none" />
<path d="M198.7,201.7 C201.5,202.3 202.9,204.8 202.8,207.7 L202,219.7 C201.5,226 198.5,232.2 194.7,233.7 C192.3,233.5 191.2,230.8 191.3,227.7 L192,211.7 C192.6,206.5 195,202 198.7,201.7 Z" stroke="#161616" stroke-width="1.35" fill="#fff" />
<path d="M198.4,203.8 C200.3,204.4 201,206.3 200.9,208.4 L200.2,219.4 C199.8,224.6 197.6,229.8 194.9,231.5 C193.6,231.2 193,229.4 193.1,227.4 L193.8,212 C194.3,207.8 196,204.4 198.4,203.8 Z" stroke="#161616" stroke-width="0.94" fill="none" />
<path d="M205.3,205 L215.3,203 C216.2,203 216.4,203.8 216.4,204.5 L216.8,213.8 C216.6,214.8 216.2,215.2 215.6,215.4 L206.7,218.3 Z" stroke="#161616" stroke-width="1.35" fill="#fff" />
<ellipse cx="211.3" cy="210.3" rx="1.7" ry="2.4" stroke="#161616" stroke-width="1.22" fill="none" transform="rotate(15 211.3 210.3)"/>
<path d="M205.3,205 L203,206.2 L204.2,219 L206.7,218.3" stroke="#161616" stroke-width="1.08" fill="none" />
<path d="M178,220.3 L186.7,217.7 L188,229.7 L178.7,233 C177.8,233 177.4,232.5 177.3,231.6 L177.2,221.5 C177.3,220.8 177.6,220.4 178,220.3 Z" stroke="#161616" stroke-width="1.35" fill="#fff" />
<ellipse cx="182.7" cy="227.4" rx="1.7" ry="2.4" stroke="#161616" stroke-width="1.22" fill="none" transform="rotate(15 182.7 227.4)"/>
<path d="M186.7,217.7 L189,216.8 L190.3,228.6 L188,229.7" stroke="#161616" stroke-width="1.08" fill="none" /></g>
<g id="pin3">
<path d="M206.25,237.1 L214.9,240.5 C216.6,241.6 217.2,244 216.5,246.2 C215.6,248.6 213.6,249.6 211.5,249.1 L204.4,246.1 Z" stroke="#161616" stroke-width="1.35" fill="#fff" />
<ellipse cx="205.2" cy="241.6" rx="2.5" ry="4.6" stroke="#161616" stroke-width="1.82" fill="#fff" transform="rotate(-18 205.2 241.6)"/>
<path d="M208.6,238.6 C207.4,241 207.4,245 208.4,247.4" stroke="#161616" stroke-width="0.81" fill="none" />
<ellipse cx="212.8" cy="244.2" rx="1.2" ry="1.7" stroke="#161616" stroke-width="1.08" fill="none" transform="rotate(-15 212.8 244.2)"/>
<path d="M211,241.5 L214.6,243" stroke="#161616" stroke-width="0.81" fill="none" />
</g>
<g id="washer5">
<ellipse cx="224.3" cy="251.4" rx="5.2" ry="7.3" stroke="#161616" stroke-width="1.69" fill="#fff" transform="rotate(20 224.3 251.4)"/>
<ellipse cx="224.6" cy="251.6" rx="3.0" ry="4.4" stroke="#161616" stroke-width="1.35" fill="none" transform="rotate(20 224.6 251.6)"/>
</g>
<g id="shoes">
<path d="M234.4,250 C234.8,248 235.3,246.3 236,244.7 C237.2,241.5 238.8,238.7 240.8,236.1 C243,233.2 245.5,230.7 248.3,228.7 C251,226.6 253.8,225 256.8,223.9 C259.3,223.2 261.8,223 264.3,223.3 C267,223.8 269.5,225 271.7,226.5 L277.6,231.3 L275.5,233.5 L271.7,237.7 L269,238.3 L264.8,236.1 C263.5,236 262.3,236.2 261.1,236.7 C258.8,237.6 256.6,239 254.7,240.9 C252.8,242.8 251.2,245 249.9,247.3 C248.9,249.2 248.2,251.2 247.7,253.2 L242.4,253.7 Z" stroke="#161616" stroke-width="1.35" fill="#fff" />
<path d="M244,250 C244.6,248.2 245.3,246.4 246.1,244.7 C247.4,242.2 249,239.8 250.9,237.7 C253,235.6 255.3,233.8 257.9,232.4 C260.2,231 262.7,230 265.3,229.7 C268,229.6 270.5,230 272.8,230.8 L275.5,232.9" stroke="#161616" stroke-width="1.22" fill="none" />
<path d="M255.5,237.2 C257,236 258.6,235.2 260,234.6 M252.5,240.3 L254.2,238.6" stroke="#161616" stroke-width="0.94" fill="none" />
<path d="M234.4,250.6 L233,264.6 C234.5,269 236.8,271.5 239.8,272.9 L249.6,270.6 C251.2,267 251.6,262.5 251.1,258.6 L249.5,253.6 L247.7,253.2 L242.4,253.7 Z" stroke="#161616" stroke-width="1.35" fill="#fff" />
<path d="M234.4,250.6 L239.8,253.2 L239.8,272.9 M239.8,253.2 L242.4,253.7" stroke="#161616" stroke-width="1.08" fill="none" />
<ellipse cx="245.5" cy="262.2" rx="4.2" ry="6.0" stroke="#161616" stroke-width="1.22" fill="#fff" transform="rotate(10 245.5 262.2)"/>
<ellipse cx="245.8" cy="262.4" rx="2.6" ry="4.0" stroke="#161616" stroke-width="1.22" fill="none" transform="rotate(10 245.8 262.4)"/>
<path d="M285.6,259.2 C285,261.5 284.3,263.6 283.5,265.6 C282,268.8 279.8,271.6 277.1,274.1 C274.5,277 271.6,279.3 268.5,281.1 C265.4,283 262.2,284.1 258.9,284.3 C255.5,284.3 252.3,283.5 249.3,282.1 L242.4,277.3 L245.1,274.1 L250.9,272.5 C253.6,273.2 256.3,273.4 258.9,273.1 C261.2,272.6 263.3,271.5 265.3,269.9 C267.2,268.2 268.8,266.2 270.1,264 C271,262.2 271.5,260.2 271.7,258.1 L277.6,259.7 L281.3,257.6 Z" stroke="#161616" stroke-width="1.35" fill="#fff" />
<path d="M253.6,274.1 C256,275.6 259,276 262,275.4 C265.5,274.4 268.8,272.2 271.5,269.4 C274,266.8 276,263.6 277.6,259.7" stroke="#161616" stroke-width="1.08" fill="none" />
<path d="M246.5,277.5 C250,279.8 254.5,281 259,280.6 C263.5,280 268,277.8 272,274.6 C276,271.2 279.5,266.5 282,261" stroke="#161616" stroke-width="1.08" fill="none" />
<path d="M250.9,272.5 L253.6,274.1 L250.5,276.6" stroke="#161616" stroke-width="1.08" fill="none" />
<ellipse cx="263.7" cy="273.1" rx="1.8" ry="2.1" stroke="#161616" stroke-width="1.62" fill="none"/>
<path d="M266,271.8 L271.5,267.6 M266.2,274.6 L273,270" stroke="#161616" stroke-width="0.81" fill="none" />
<path d="M270.7,245.7 L273.9,239.3 L279.2,237.7 C282,238 284,239.5 284.5,240.9 C285.6,243.5 286.1,246 286.1,248.9 C285.8,252 285,255 283.5,257.5 L278.1,259.6 L272.8,258.8 L271.6,254.8 Z" stroke="#161616" stroke-width="1.35" fill="#fff" />
<path d="M273.9,239.3 L276.5,243.5 L271.3,247 M276.5,243.5 L284,241.5" stroke="#161616" stroke-width="1.08" fill="none" />
<ellipse cx="281.2" cy="250.3" rx="4.3" ry="6.2" stroke="#161616" stroke-width="1.22" fill="#fff" transform="rotate(10 281.2 250.3)"/>
<ellipse cx="281.5" cy="250.5" rx="2.6" ry="4.0" stroke="#161616" stroke-width="1.22" fill="none" transform="rotate(10 281.5 250.5)"/>
</g>
<g id="spring2">
<path d="M289.3,267.5 C289,264.5 290,262.9 290.9,262.7 C292.3,262.2 293.8,262.4 295.1,263.2 C296.6,264.2 297.6,265.5 297.8,267 L297.8,270.1" stroke="#161616" stroke-width="1.35" fill="none" />
<path d="M292.8,264.6 C294,265 294.6,266.2 294.6,267.6" stroke="#161616" stroke-width="1.08" fill="none" />
<ellipse cx="293.1" cy="270.2" rx="5.7" ry="1.9" stroke="#161616" stroke-width="1.15" fill="none" transform="rotate(6 293.1 270.2)"/>
<ellipse cx="293.22" cy="272.55" rx="5.76" ry="1.9" stroke="#161616" stroke-width="1.15" fill="none" transform="rotate(6 293.22 272.55)"/>
<ellipse cx="293.34000000000003" cy="274.9" rx="5.82" ry="1.9" stroke="#161616" stroke-width="1.15" fill="none" transform="rotate(6 293.34000000000003 274.9)"/>
<ellipse cx="293.46000000000004" cy="277.25" rx="5.88" ry="1.9" stroke="#161616" stroke-width="1.15" fill="none" transform="rotate(6 293.46000000000004 277.25)"/>
<ellipse cx="293.58000000000004" cy="279.59999999999997" rx="5.94" ry="1.9" stroke="#161616" stroke-width="1.15" fill="none" transform="rotate(6 293.58000000000004 279.59999999999997)"/>
<ellipse cx="293.70000000000005" cy="281.95" rx="6.0" ry="1.9" stroke="#161616" stroke-width="1.15" fill="none" transform="rotate(6 293.70000000000005 281.95)"/>
<ellipse cx="293.82000000000005" cy="284.3" rx="6.0600000000000005" ry="1.9" stroke="#161616" stroke-width="1.15" fill="none" transform="rotate(6 293.82000000000005 284.3)"/>
<path d="M287.9,270 L287.5,284.5 M298.6,271 L299.3,285" stroke="#161616" stroke-width="1.76" fill="none" />
<path d="M289.3,285.5 C289.5,287.5 290,288.8 290.9,289.7 C292,291 293.5,291.8 295.1,291.8 C296.3,291.3 297.2,290.4 297.8,289.2 C298.2,288 298.3,286.5 298.3,285" stroke="#161616" stroke-width="1.35" fill="none" />
<path d="M291.9,286.5 C292.5,287.8 293.2,288.5 294.1,288.7 C295.2,288.3 296,287.2 296.7,286" stroke="#161616" stroke-width="0.94" fill="none" />
</g>
<g id="screw6">
<path d="M332.2,311.7 L346.6,318.9 L344.8,324.3 L330.4,315.8 C329.8,314 330.6,312 332.2,311.7 Z" stroke="#161616" stroke-width="1.35" fill="#fff" />
<line x1="333.2" y1="312.3" x2="331.7" y2="316.2" stroke="#1c1c1c" stroke-width="0.68"/>
<line x1="334.8" y1="313.12" x2="333.3" y2="317.02" stroke="#1c1c1c" stroke-width="0.68"/>
<line x1="336.4" y1="313.94" x2="334.9" y2="317.84" stroke="#1c1c1c" stroke-width="0.68"/>
<line x1="338.0" y1="314.76" x2="336.5" y2="318.65999999999997" stroke="#1c1c1c" stroke-width="0.68"/>
<line x1="339.59999999999997" y1="315.58" x2="338.09999999999997" y2="319.47999999999996" stroke="#1c1c1c" stroke-width="0.68"/>
<line x1="341.2" y1="316.40000000000003" x2="339.7" y2="320.3" stroke="#1c1c1c" stroke-width="0.68"/>
<line x1="342.8" y1="317.22" x2="341.3" y2="321.12" stroke="#1c1c1c" stroke-width="0.68"/>
<line x1="344.4" y1="318.04" x2="342.9" y2="321.94" stroke="#1c1c1c" stroke-width="0.68"/>
<path d="M346.6,317.8 L351.5,319.3 L349,330 L344.5,327 Z" stroke="#fff" stroke-width="0.14" fill="#fff" />
<ellipse cx="348.2" cy="322.8" rx="4.2" ry="5.6" stroke="#161616" stroke-width="1.35" fill="#fff" transform="rotate(-20 348.2 322.8)"/>
<ellipse cx="351.2" cy="324.4" rx="4.6" ry="6.0" stroke="#161616" stroke-width="1.35" fill="#fff" transform="rotate(-20 351.2 324.4)"/>
<line x1="346.6" y1="317.8" x2="349.5" y2="318.8" stroke="#1c1c1c" stroke-width="1.35"/>
<line x1="346.5" y1="328.3" x2="349.8" y2="330" stroke="#1c1c1c" stroke-width="1.35"/>
<ellipse cx="351.7" cy="324.6" rx="2.8" ry="3.7" stroke="#161616" stroke-width="0.81" fill="none" transform="rotate(-20 351.7 324.6)"/>
<path d="M350,322.6 L353.5,326.6 M353.6,322.9 L350,326.5" stroke="#161616" stroke-width="0.81" fill="none" />
</g>
<g id="drum">
<path d="M289.3,158.0 L288.9,157.7 L288.5,157.4 L288.1,157.0 L287.6,156.6 L287.2,156.3 L286.9,155.9 L286.5,155.4 L286.1,155.0 L285.8,154.5 L285.4,154.1 L285.1,153.6 L284.8,153.1 L284.4,152.5 L284.1,152.0 L283.9,151.4 L283.6,150.9 L283.3,150.3 L283.1,149.7 L282.9,149.1 L282.6,148.4 L282.4,147.8 L282.3,147.1 L282.1,146.5 L281.9,145.8 L281.8,145.1 L281.6,144.4 L281.5,143.7 L281.4,143.0 L281.3,142.2 L281.3,141.5 L294.8,146.5 L294.9,147.1 L295.0,147.7 L295.1,148.2 L295.3,148.8 L295.5,149.3 L295.6,149.9 L295.8,150.4 L296.0,150.9 L296.2,151.4 L296.4,151.9 L296.6,152.4 L296.8,152.9 L297.1,153.4 L297.3,153.8 L297.6,154.3 L297.8,154.7 L298.1,155.1 L298.4,155.5 L298.7,155.9 L299.0,156.3 L299.3,156.7 L299.6,157.1 L299.9,157.4 L300.2,157.8 L300.6,158.1 L300.9,158.4 L301.3,158.7 L301.6,159.0 L302.0,159.2 L302.3,159.5 Z" stroke="#111" stroke-width="0.81" fill="#111" />
<path d="M290.8,158.8 L289.8,158.3 L288.8,157.6 L287.9,156.9 L287.0,156.0 L286.2,155.1 L285.4,154.0 L284.6,152.9 L284.0,151.7 L283.4,150.4 L282.9,149.1 L282.4,147.6 L282.0,146.1 L281.7,144.6 L281.4,143.0 L281.3,141.4 L281.2,139.7 L281.1,138.0 L281.2,136.2 L281.3,134.5 L281.5,132.7 L281.8,130.9 L282.1,129.1 L282.5,127.3 L283.0,125.5 L283.5,123.8 L284.1,122.0 L284.8,120.3 L285.5,118.6 L286.3,117.0 L287.2,115.4 L288.1,113.8 L289.0,112.4 L290.0,110.9 L291.1,109.6 L292.2,108.3 L293.3,107.1 L294.4,106.0 L295.6,104.9 L296.8,104.0 L298.0,103.1 L299.2,102.4 L300.5,101.7 L301.7,101.2 L303.0,100.7 L304.2,100.3 L305.4,100.1 L306.7,99.9 L307.9,99.9 L309.0,100.0 L310.2,100.2 L311.3,100.4 L312.4,100.8 L313.5,101.3 L314.5,101.9 L315.5,102.6 L316.4,103.4 L317.3,104.3 L318.1,105.3 L318.9,106.3 L319.6,107.5" stroke="#161616" stroke-width="1.35" fill="none" />
<ellipse cx="315" cy="131.5" rx="19.5" ry="31" stroke="#161616" stroke-width="1.35" fill="#fff" transform="rotate(18 315 131.5)"/>
<line x1="317.8292874205564" y1="104.9213845222518" x2="330.8292874205564" y2="106.4213845222518" stroke="#1c1c1c" stroke-width="1.35"/>
<line x1="289.3455977091359" y1="157.98846811495193" x2="302.3455977091359" y2="159.48846811495193" stroke="#1c1c1c" stroke-width="1.35"/>
<ellipse cx="316.5" cy="132" rx="16.5" ry="27.5" stroke="#161616" stroke-width="1.08" fill="none" transform="rotate(18 316.5 132)"/>
<path d="M316.5,158.6 L314.9,159.3 L313.3,159.8 L311.8,160.0 L310.2,160.1 L308.7,160.0 L307.2,159.7 L305.8,159.2 L304.5,158.5 L303.2,157.7 L302.0,156.6 L301.0,155.4 L300.0,154.0 L299.1,152.5 L298.4,150.8 L297.7,149.0 L297.2,147.1 L296.8,145.1 L296.6,142.9 L296.5,140.8 L296.5,138.5 L296.6,136.2 L296.9,133.9 L297.3,131.5 L297.8,129.2 L298.5,126.8 L299.3,124.6 L300.2,122.3 L301.1,120.1 L302.2,118.0 L303.4,116.0 L304.7,114.1 L306.1,112.4 L307.5,110.7 L309.0,109.2 L310.5,107.9 L312.0,106.7 L313.6,105.7 L315.2,104.9 L316.8,104.3 L318.4,103.8" stroke="#161616" stroke-width="0.81" fill="none" />
<g transform="rotate(-75 316 118.5)"><rect x="310.75" y="116.6" width="10.5" height="3.8" rx="1.9" fill="none" stroke="#161616" stroke-width="0.8"/><line x1="312.25" y1="118.5" x2="319.75" y2="118.5" stroke="#161616" stroke-width="0.5"/></g>
<g transform="rotate(-50 328 122.5)"><rect x="323.0" y="120.7" width="10" height="3.6" rx="1.8" fill="none" stroke="#161616" stroke-width="0.8"/><line x1="324.5" y1="122.5" x2="331.5" y2="122.5" stroke="#161616" stroke-width="0.5"/></g>
<g transform="rotate(-20 302.5 137.5)"><rect x="298.25" y="135.4" width="8.5" height="4.2" rx="2.1" fill="none" stroke="#161616" stroke-width="0.8"/><line x1="299.75" y1="137.5" x2="305.25" y2="137.5" stroke="#161616" stroke-width="0.5"/></g>
<g transform="rotate(-70 309 152)"><rect x="303.75" y="150.1" width="10.5" height="3.8" rx="1.9" fill="none" stroke="#161616" stroke-width="0.8"/><line x1="305.25" y1="152" x2="312.75" y2="152" stroke="#161616" stroke-width="0.5"/></g>
<g transform="translate(317 134) scale(1.15) translate(-317 -134)">
<path d="M313.5,133 C312.5,129.5 316,127 320,128 L324.5,130.5 C326,133 324,139 321,141.5 L317,139.5 C314.5,138.5 313.5,136 313.5,133 Z" stroke="#161616" stroke-width="1.22" fill="#fff" />
<path d="M320,128 C317,130 316,136 317.5,139.5" stroke="#161616" stroke-width="0.94" fill="none" />
<path d="M321.5,131.5 L334,138.5 C337.5,140 338,145 335,147.5 C333,148.5 331.5,148 330,147 L319.5,141 C317.5,138 318.5,133 321.5,131.5 Z" stroke="#161616" stroke-width="1.22" fill="#fff" />
<path d="M326.5,134.5 C324.5,136.5 324,141 325.5,144" stroke="#161616" stroke-width="0.94" fill="none" />
<path d="M329,136 C327,138 326.5,142.5 328,145.5" stroke="#161616" stroke-width="0.94" fill="none" />
<path d="M334,138.5 C331.5,140 331,145 333,147.5" stroke="#161616" stroke-width="0.94" fill="none" />
<ellipse cx="334.8" cy="143.2" rx="1.6" ry="2.6" stroke="#161616" stroke-width="0.81" fill="none" transform="rotate(18 334.8 143.2)"/>
</g>
</g>
<g id="bearing">
<ellipse cx="349.8" cy="154.6" rx="9.4" ry="13.2" stroke="#161616" stroke-width="1.35" fill="#fff" transform="rotate(20 349.8 154.6)"/>
<path d="M353.0,141.3 L357.8,142.2 L351.6,168.0 L346.6,167.2 Z" stroke="#fff" stroke-width="0.01" fill="#fff" />
<line x1="353.6" y1="141.5" x2="358.3" y2="142.6" stroke="#1c1c1c" stroke-width="1.35"/>
<line x1="346.0" y1="167.3" x2="350.9" y2="168.0" stroke="#1c1c1c" stroke-width="1.35"/>
<ellipse cx="354.6" cy="155.2" rx="9.4" ry="13.2" stroke="#161616" stroke-width="1.35" fill="#fff" transform="rotate(20 354.6 155.2)"/>
<ellipse cx="355.0" cy="155.4" rx="7.6" ry="10.9" stroke="#161616" stroke-width="0.94" fill="none" transform="rotate(20 355.0 155.4)"/>
<ellipse cx="355.4" cy="155.8" rx="6.2" ry="8.9" stroke="#161616" stroke-width="1.08" fill="none" transform="rotate(20 355.4 155.8)"/>
<ellipse cx="355.8" cy="156.4" rx="4.4" ry="6.5" stroke="#161616" stroke-width="1.35" fill="none" transform="rotate(20 355.8 156.4)"/>
<path d="M353.2,151.5 C352,154.5 352.3,158.6 354,161.5" stroke="#161616" stroke-width="0.81" fill="none" />
</g>
<g id="screw10">
<ellipse cx="372" cy="140.4" rx="4.2" ry="6.3" stroke="#161616" stroke-width="1.35" fill="#fff" transform="rotate(-18 372 140.4)"/>
<ellipse cx="373.6" cy="139.6" rx="4.3" ry="6.2" stroke="#161616" stroke-width="1.35" fill="#fff" transform="rotate(-18 373.6 139.6)"/>
<path d="M375.6,138 L385.6,143.2 C388,144.6 388,148 385.6,148.6 C384.6,148.8 383.6,148.4 382.6,147.8 L374.6,143.2 Z" stroke="#161616" stroke-width="1.35" fill="#fff" />
<ellipse cx="375.2" cy="139.6" rx="2.6" ry="4.4" stroke="#161616" stroke-width="1.22" fill="#fff" transform="rotate(-18 375.2 139.6)"/>
<line x1="378.6" y1="140.2" x2="377.3" y2="143.79999999999998" stroke="#1c1c1c" stroke-width="0.68"/>
<line x1="380.3" y1="141.14999999999998" x2="379.0" y2="144.74999999999997" stroke="#1c1c1c" stroke-width="0.68"/>
<line x1="382.0" y1="142.1" x2="380.7" y2="145.7" stroke="#1c1c1c" stroke-width="0.68"/>
<line x1="383.70000000000005" y1="143.04999999999998" x2="382.40000000000003" y2="146.64999999999998" stroke="#1c1c1c" stroke-width="0.68"/>
<line x1="385.40000000000003" y1="144.0" x2="384.1" y2="147.6" stroke="#1c1c1c" stroke-width="0.68"/>
</g>
<g id="housing">
<path d="M363.4,164.5 L410,139.5 L437,128 L448.5,125 L450.3,124 L455,126 L458.4,130 L459.8,136 L459.5,150 L460.5,170 L462,182 C465,190 470,196 476,202.6 C482,208 484.5,218 481.5,230 C478.5,241 470,250.5 461,249.5 L453.6,246 L445,238 L440,234 L435,237.5 L418,238.3 L400,239.3 L395.6,247 L390.3,245.6 L387.3,239.6 C380,236 375,233 371.5,229 C368,225 365.5,221.5 364,218.6 C362,214 360.6,210 360.3,206.5 L360.5,199 L355,193.5 L356.7,186.5 L362.6,181 Z" stroke="#161616" stroke-width="1.35" fill="#fff" />
<path d="M363.6,166.6 L410,141.6 L437.5,130 L448,126.8" stroke="#161616" stroke-width="1.08" fill="none" />
<path d="M364.5,167.8 L371,166 L410.5,143.2 L438,131.3 L449,127.6" stroke="#161616" stroke-width="1.08" fill="none" />
<path d="M363.8,165.6 L410,140.5 L437.3,129 L448.5,125.8" stroke="#333" stroke-width="2.16" fill="none" />
<path d="M411.7,137.6 L414.7,135 L416.6,135.6" stroke="#161616" stroke-width="1.22" fill="none" />
<path d="M371,166 L370,183.5 L368.4,185.2" stroke="#161616" stroke-width="1.22" fill="none" />
<path d="M363.4,164.5 L366.5,170 L366,182 M366.5,170 L371,166" stroke="#161616" stroke-width="0.94" fill="none" />
<path d="M433.9,127.5 L432.2,118.3 L430.4,112.5 L431,107.8 L429.3,105.5 L426.3,106 L425.2,109 L425.8,114.3 L431,120 L432.8,128" stroke="#161616" stroke-width="1.35" fill="#fff" />
<path d="M448.5,125.3 L446.2,123 L440.9,118.3 L440.3,112.5 L438.6,106 L436.3,102.6 L432.8,103.2 L432.2,105.5 L433.5,111 L436.5,118 L438.5,127" stroke="#161616" stroke-width="1.35" fill="#fff" />
<path d="M427.3,108 L428,112.5 M434.3,105.5 L435.5,110.5" stroke="#161616" stroke-width="0.94" fill="none" />
<line x1="434.6" y1="114.5" x2="437.6" y2="113.6" stroke="#1c1c1c" stroke-width="0.94"/>
<line x1="435.15000000000003" y1="116.4" x2="438.20000000000005" y2="115.5" stroke="#1c1c1c" stroke-width="0.94"/>
<line x1="435.70000000000005" y1="118.3" x2="438.8" y2="117.39999999999999" stroke="#1c1c1c" stroke-width="0.94"/>
<line x1="436.25" y1="120.2" x2="439.40000000000003" y2="119.3" stroke="#1c1c1c" stroke-width="0.94"/>
<line x1="436.8" y1="122.1" x2="440.0" y2="121.19999999999999" stroke="#1c1c1c" stroke-width="0.94"/>
<line x1="437.35" y1="124.0" x2="440.6" y2="123.1" stroke="#1c1c1c" stroke-width="0.94"/>
<path d="M455,127.7 L455.5,135.8 L457.3,140.5 L458.4,134.7 Z" stroke="#161616" stroke-width="1.08" fill="none" />
<path d="M453.8,128.8 L438,149" stroke="#161616" stroke-width="1.22" fill="none" />
<path d="M381,185 C383,176 390,163 400.6,153.6 C408,147.5 420,143 429,143.8 C436,144.5 441,148 444,152 C447,157 448,161 448.7,164 C451,170 455,177 459.2,182" stroke="#161616" stroke-width="1.35" fill="none" />
<path d="M370.8,202.8 C370.5,208 371,212 371.5,215.6 C372.5,220 375,224 377.6,227.6 C380,231 382.5,233.5 385,235" stroke="#161616" stroke-width="1.08" fill="none" />
<path d="M377.6,203.5 C377.3,207 377.3,211 377.6,214 C378.5,218.5 380.5,222.5 382.8,226 C384.5,229 386.5,231.5 388.8,233.6" stroke="#161616" stroke-width="1.08" fill="none" />
<path d="M362.6,201 C364,203 366,204 369,204.5" stroke="#161616" stroke-width="0.94" fill="none" />
<path d="M368.4,185.2 L383.5,186 C392,188.5 400.3,192.7 410,197.8 L423.7,205.3 C427.5,207.5 430,210.5 428.7,213.2 C427.5,216 424.5,217.4 422,217 L396.9,207 C390,204 382,201 376.8,200.3 L360.5,199" stroke="#161616" stroke-width="1.35" fill="#fff" />
<ellipse cx="372.6" cy="194" rx="8.6" ry="4.6" stroke="#161616" stroke-width="1.35" fill="#fff" transform="rotate(4 372.6 194)"/>
<path d="M356.7,186.5 C359.5,184.5 364,184.5 368.4,185.2" stroke="#161616" stroke-width="1.22" fill="none" />
<g transform="translate(402.5 188.5) rotate(28.42)"><rect x="0" y="-2.1" width="31.7" height="4.2" rx="1.47" fill="#fff" stroke="#161616" stroke-width="1.55"/><line x1="14.3" y1="-1.0" x2="30.2" y2="-1.0" stroke="#161616" stroke-width="0.75"/><line x1="28.5" y1="-2.1" x2="28.5" y2="2.1" stroke="#161616" stroke-width="0.75"/></g>
<g transform="translate(406 180) rotate(29.92)"><rect x="0" y="-2.1" width="32.1" height="4.2" rx="1.47" fill="#fff" stroke="#161616" stroke-width="1.55"/><line x1="14.4" y1="-1.0" x2="30.6" y2="-1.0" stroke="#161616" stroke-width="0.75"/><line x1="28.9" y1="-2.1" x2="28.9" y2="2.1" stroke="#161616" stroke-width="0.75"/></g>
<g transform="translate(411.8 171.6) rotate(34.56)"><rect x="0" y="-2.0" width="32.8" height="4.0" rx="1.4" fill="#fff" stroke="#161616" stroke-width="1.55"/><line x1="14.8" y1="-0.8999999999999999" x2="31.3" y2="-0.8999999999999999" stroke="#161616" stroke-width="0.75"/><line x1="29.6" y1="-2.0" x2="29.6" y2="2.0" stroke="#161616" stroke-width="0.75"/></g>
<g transform="translate(418.6 164.8) rotate(40.07)"><rect x="0" y="-1.8" width="32.9" height="3.6" rx="1.26" fill="#fff" stroke="#161616" stroke-width="1.55"/><line x1="14.8" y1="-0.7" x2="31.4" y2="-0.7" stroke="#161616" stroke-width="0.75"/><line x1="29.7" y1="-1.8" x2="29.7" y2="1.8" stroke="#161616" stroke-width="0.75"/></g>
<g transform="translate(426 160.3) rotate(46.15)"><rect x="0" y="-1.6" width="31.8" height="3.2" rx="1.1199999999999999" fill="#fff" stroke="#161616" stroke-width="1.55"/><line x1="14.3" y1="-0.5" x2="30.3" y2="-0.5" stroke="#161616" stroke-width="0.75"/><line x1="28.6" y1="-1.6" x2="28.6" y2="1.6" stroke="#161616" stroke-width="0.75"/></g>
<g transform="translate(433.6 158.8) rotate(49.81)"><rect x="0" y="-1.3" width="30.4" height="2.6" rx="0.9099999999999999" fill="#fff" stroke="#161616" stroke-width="1.55"/><line x1="13.7" y1="-0.19999999999999996" x2="28.9" y2="-0.19999999999999996" stroke="#161616" stroke-width="0.75"/><line x1="27.2" y1="-1.3" x2="27.2" y2="1.3" stroke="#161616" stroke-width="0.75"/></g>
<g transform="translate(439.7 158.8) rotate(52.57)"><rect x="0" y="-1.0" width="28.5" height="2.0" rx="0.7" fill="#fff" stroke="#161616" stroke-width="1.55"/><line x1="12.8" y1="0.10000000000000009" x2="27.0" y2="0.10000000000000009" stroke="#161616" stroke-width="0.75"/><line x1="25.3" y1="-1.0" x2="25.3" y2="1.0" stroke="#161616" stroke-width="0.75"/></g>
<line x1="444" y1="159.5" x2="459" y2="181" stroke="#1c1c1c" stroke-width="1.22"/>
<line x1="446.2" y1="160.5" x2="459.6" y2="180.5" stroke="#1c1c1c" stroke-width="1.08"/>
<line x1="448.3" y1="163.5" x2="460.2" y2="181.5" stroke="#1c1c1c" stroke-width="1.08"/>
<g transform="translate(394.8 208.8) rotate(16.24)"><rect x="0" y="-2.1" width="32.2" height="4.2" rx="1.47" fill="#fff" stroke="#161616" stroke-width="1.55"/><line x1="14.5" y1="-1.0" x2="30.7" y2="-1.0" stroke="#161616" stroke-width="0.75"/><line x1="29.0" y1="-2.1" x2="29.0" y2="2.1" stroke="#161616" stroke-width="0.75"/></g>
<g transform="translate(394 217.8) rotate(13.03)"><rect x="0" y="-1.9" width="33.3" height="3.8" rx="1.3299999999999998" fill="#fff" stroke="#161616" stroke-width="1.55"/><line x1="15.0" y1="-0.7999999999999998" x2="31.8" y2="-0.7999999999999998" stroke="#161616" stroke-width="0.75"/><line x1="30.1" y1="-1.9" x2="30.1" y2="1.9" stroke="#161616" stroke-width="0.75"/></g>
<g transform="translate(395.6 225.3) rotate(9.52)"><rect x="0" y="-1.6" width="32.0" height="3.2" rx="1.1199999999999999" fill="#fff" stroke="#161616" stroke-width="1.55"/><line x1="14.4" y1="-0.5" x2="30.5" y2="-0.5" stroke="#161616" stroke-width="0.75"/><line x1="28.8" y1="-1.6" x2="28.8" y2="1.6" stroke="#161616" stroke-width="0.75"/></g>
<g transform="translate(398.6 231.4) rotate(6.82)"><rect x="0" y="-1.2" width="30.3" height="2.4" rx="0.84" fill="#fff" stroke="#161616" stroke-width="1.55"/><line x1="13.6" y1="-0.09999999999999987" x2="28.8" y2="-0.09999999999999987" stroke="#161616" stroke-width="0.75"/><line x1="27.1" y1="-1.2" x2="27.1" y2="1.2" stroke="#161616" stroke-width="0.75"/></g>
<path d="M387.3,239.6 L391,236.5 L398.6,237.4 L400,239.6 M395.6,247 L400,242.6 L415,239.6" stroke="#161616" stroke-width="1.08" fill="none" />
<path d="M474.4,202.6 C479,204.5 481.8,207.5 482,211.5 C482.8,218 481.8,225 479.5,230.6 C476,239 468,248.5 459,249.6 C455.5,247 453,241 452.8,234.4 C452.8,228 454,222 456.6,216.6 C459,211.5 462,208.5 465.5,206.4 C468.5,204 471.5,202.5 474.4,202.6 Z" stroke="#161616" stroke-width="1.49" fill="#fff" />
<path d="M473,206.4 C477,208 479.3,210.5 479.5,214 C480,219.5 478.5,225 475.7,229.3 C473.5,234.5 470.5,239.5 466.8,242 C462.5,240.5 458.5,234.5 457.9,226.8 C458,221.5 459.5,217.5 461.7,214 C464.5,209.5 468.5,206.5 473,206.4 Z" stroke="#161616" stroke-width="1.35" fill="none" />
<path d="M459.1,228 C459.3,226.5 459.8,225.6 460.4,224.9 C462,223.8 463.8,223.5 465.5,223.6 C467.3,224 468.6,225 469.3,226.1 C469.6,228 469.3,230 468.7,231.8 L466.8,235.7" stroke="#161616" stroke-width="1.35" fill="none" />
<path d="M462.3,226.1 C461.2,228.5 460.8,231 461,233.1 L462.3,236.9 M466.1,225.5 C465.4,228 465.2,230.6 465.5,233.1 L467.4,236.9" stroke="#161616" stroke-width="1.08" fill="none" />
<path d="M459.1,228 C458.8,231 459,233.6 459.8,235.7 C460.4,237.5 461.3,238.8 462.3,239.5 C463.6,240 465,239.6 466.1,238.8 C467,238 467.6,236.8 468,235.7 L471.8,234.4 L471.8,239.5 C471.3,241.3 470.4,242.5 469.3,243.3 C468.2,243.9 467.2,244 466.1,243.9 C465.4,242.6 465,241 464.9,239.5" stroke="#161616" stroke-width="1.35" fill="none" />
<path d="M437,239 C437.5,236 440,233.3 443.5,233 C447,233 450.5,235.5 452.8,238.5 C454.5,241 455.3,244 455.6,246.5" stroke="#161616" stroke-width="1.22" fill="none" />
<path d="M440,240.5 C439,237.5 441,235 444.5,235.3 C448.5,236.3 452,240 452.8,243.8 C451,245.8 446,245.2 443,243.2 Z" stroke="#161616" stroke-width="1.22" fill="none" />
<path d="M442.6,236.6 L449.6,244 M445.2,235.6 L452,242 M441,239 L446,244.6" stroke="#161616" stroke-width="0.94" fill="none" />
</g>
<g id="nut9">
<path d="M468.2,142.2 L470.6,140 L474.2,140.6 L475.6,144.2 L473.4,147.5 L469.6,147 Z" stroke="#1a1a1a" stroke-width="1.69" fill="#fff" />
<ellipse cx="472" cy="143.8" rx="1.6" ry="2.0" stroke="#1a1a1a" stroke-width="1.22" fill="none"/>
</g>
<g id="screw17">
<path d="M477.5,145.8 L493.3,153.6 L491,158.3 L475.8,149 C475,147.5 476,145.8 477.5,145.8 Z" stroke="#161616" stroke-width="1.49" fill="#fff" />
<line x1="478.5" y1="148.4" x2="491.5" y2="155.4" stroke="#1c1c1c" stroke-width="0.68"/>
<ellipse cx="494.2" cy="157.2" rx="3.9" ry="4.9" stroke="#161616" stroke-width="1.49" fill="#fff" transform="rotate(-25 494.2 157.2)"/>
<ellipse cx="495.2" cy="157.8" rx="4.0" ry="5.0" stroke="#161616" stroke-width="1.62" fill="#fff" transform="rotate(-25 495.2 157.8)"/>
<ellipse cx="495.4" cy="157.9" rx="2.4" ry="3.1" stroke="#161616" stroke-width="0.94" fill="none" transform="rotate(-25 495.4 157.9)"/>
<path d="M494,156.3 L496.8,159.6 M496.9,156.4 L494,159.5" stroke="#161616" stroke-width="0.81" fill="none" />
</g>
<g id="bush13">
<ellipse cx="508.8" cy="209.60000000000002" rx="5.8" ry="8.4" stroke="#161616" stroke-width="1.49" fill="#fff" transform="rotate(-15 508.8 209.60000000000002)"/>
<path d="M499.1,202.7 L506.6,201.5 L511.0,217.7 L503.5,218.9 Z" fill="#fff" stroke="none"/>
<line x1="499.1" y1="202.7" x2="506.6" y2="201.5" stroke="#1c1c1c" stroke-width="1.49"/>
<line x1="503.5" y1="218.9" x2="511.0" y2="217.7" stroke="#1c1c1c" stroke-width="1.49"/>
<ellipse cx="501.3" cy="210.8" rx="5.8" ry="8.4" stroke="#161616" stroke-width="1.49" fill="#fff" transform="rotate(-15 501.3 210.8)"/>
<ellipse cx="501.6" cy="210.9" rx="3.7" ry="5.2" stroke="#161616" stroke-width="1.19" fill="none" transform="rotate(-15 501.6 210.9)"/>
<path d="M508,217.3 C511.5,216.8 514,213.5 514.2,209.8" stroke="#161616" stroke-width="2.16" fill="none" />
<ellipse cx="527.0" cy="198.39999999999998" rx="4.4" ry="6.2" stroke="#161616" stroke-width="1.49" fill="#fff" transform="rotate(-15 527.0 198.39999999999998)"/>
<path d="M519.9,193.2 L525.4,192.4 L528.6,204.4 L523.1,205.2 Z" fill="#fff" stroke="none"/>
<line x1="519.9" y1="193.2" x2="525.4" y2="192.4" stroke="#1c1c1c" stroke-width="1.49"/>
<line x1="523.1" y1="205.2" x2="528.6" y2="204.4" stroke="#1c1c1c" stroke-width="1.49"/>
<ellipse cx="518.9" cy="200.79999999999998" rx="4.6" ry="6.4" stroke="#161616" stroke-width="1.49" fill="#fff" transform="rotate(-15 518.9 200.79999999999998)"/>
<ellipse cx="519.8" cy="200.99999999999997" rx="4.6" ry="6.4" stroke="#161616" stroke-width="1.49" fill="#fff" transform="rotate(-15 519.8 200.99999999999997)"/>
<ellipse cx="520.0" cy="200.99999999999997" rx="2.3" ry="3.2" stroke="#161616" stroke-width="1.19" fill="none" transform="rotate(-15 520.0 200.99999999999997)"/>
<path d="M524.5,193.5 C523,195.5 523,202 524.3,205" stroke="#161616" stroke-width="0.81" fill="none" />
</g>
<g id="bush12">
<ellipse cx="432.3" cy="252.3" rx="5.8" ry="8.5" stroke="#161616" stroke-width="1.49" fill="#fff" transform="rotate(-15 432.3 252.3)"/>
<path d="M422.8,246.1 L430.1,244.1 L434.5,260.5 L427.2,262.5 Z" fill="#fff" stroke="none"/>
<line x1="422.8" y1="246.1" x2="430.1" y2="244.1" stroke="#1c1c1c" stroke-width="1.49"/>
<line x1="427.2" y1="262.5" x2="434.5" y2="260.5" stroke="#1c1c1c" stroke-width="1.49"/>
<ellipse cx="425" cy="254.3" rx="5.8" ry="8.5" stroke="#161616" stroke-width="1.49" fill="#fff" transform="rotate(-15 425 254.3)"/>
<ellipse cx="425.3" cy="254.4" rx="3.7" ry="5.2" stroke="#161616" stroke-width="1.19" fill="none" transform="rotate(-15 425.3 254.4)"/>
<path d="M432,260.5 C435.5,259.8 438,256.5 438.2,252.5" stroke="#161616" stroke-width="2.16" fill="none" />
<ellipse cx="416.0" cy="262.0" rx="4.4" ry="6.0" stroke="#161616" stroke-width="1.49" fill="#fff" transform="rotate(-15 416.0 262.0)"/>
<path d="M409.9,257.0 L414.4,256.2 L417.6,267.8 L413.1,268.6 Z" fill="#fff" stroke="none"/>
<line x1="409.9" y1="257.0" x2="414.4" y2="256.2" stroke="#1c1c1c" stroke-width="1.49"/>
<line x1="413.1" y1="268.6" x2="417.6" y2="267.8" stroke="#1c1c1c" stroke-width="1.49"/>
<ellipse cx="408.5" cy="263.8" rx="4.8" ry="6.6" stroke="#161616" stroke-width="1.49" fill="#fff" transform="rotate(-15 408.5 263.8)"/>
<ellipse cx="409.4" cy="264.0" rx="4.8" ry="6.6" stroke="#161616" stroke-width="1.49" fill="#fff" transform="rotate(-15 409.4 264.0)"/>
<ellipse cx="409.6" cy="264.0" rx="2.8" ry="3.9" stroke="#161616" stroke-width="1.19" fill="none" transform="rotate(-15 409.6 264.0)"/>
<path d="M414.3,257.3 C413,259.5 413,265.5 414.2,268.2" stroke="#161616" stroke-width="0.81" fill="none" />
</g>
<g id="screw14">
<path d="M394.5,270.8 L401.2,266.8 C402.6,266.8 403.3,269.8 402,270.8 L395.3,275.3 Z" stroke="#161616" stroke-width="1.35" fill="#fff" />
<line x1="396.5" y1="270.0" x2="397.5" y2="273.4" stroke="#1c1c1c" stroke-width="0.68"/>
<line x1="397.9" y1="269.15" x2="398.9" y2="272.54999999999995" stroke="#1c1c1c" stroke-width="0.68"/>
<line x1="399.3" y1="268.3" x2="400.3" y2="271.7" stroke="#1c1c1c" stroke-width="0.68"/>
<line x1="400.7" y1="267.45" x2="401.7" y2="270.84999999999997" stroke="#1c1c1c" stroke-width="0.68"/>
<ellipse cx="392.4" cy="274.2" rx="2.9" ry="4.6" stroke="#161616" stroke-width="1.35" fill="#fff" transform="rotate(-20 392.4 274.2)"/>
<ellipse cx="391.2" cy="274.7" rx="3.2" ry="4.9" stroke="#161616" stroke-width="1.35" fill="#fff" transform="rotate(-20 391.2 274.7)"/>
<ellipse cx="390.9" cy="274.8" rx="1.7" ry="2.6" stroke="#161616" stroke-width="0.81" fill="none" transform="rotate(-20 390.9 274.8)"/>
<path d="M389.6,273.6 L392.3,276 M392.2,273.3 L389.8,276.3" stroke="#161616" stroke-width="0.68" fill="none" />
</g>
<g id="clip15">
<path d="M485.2,229.5 C487,227.8 489.5,227.4 491.5,228.5 C493.8,230.2 494.4,233.5 493.8,236.5 C493,239.2 490.8,240.6 488.5,240.5 C486.5,240 485,238.8 484,237.5 L483.9,235" stroke="#161616" stroke-width="1.82" fill="none" />
</g>
<g id="sleeve16">
<path d="M502.8,229.7 C504.5,228.3 506.8,228 508.7,228.5 L538.5,244.6 L527,276 L499.3,262.3 C496,259.5 494.3,258 494,256.5 C492.5,253.5 492.5,251 492.9,248.3 C493.5,244 494.5,241 495.8,237.8 C497.5,234.5 500,231.5 502.8,229.7 Z" stroke="#161616" stroke-width="1.35" fill="#fff" />
<line x1="505" y1="232" x2="532.5" y2="247.5" stroke="#1c1c1c" stroke-width="0.81"/>
<line x1="501" y1="234.5" x2="529.5" y2="250.5" stroke="#1c1c1c" stroke-width="0.81"/>
<line x1="498.2" y1="239" x2="526.2" y2="256" stroke="#1c1c1c" stroke-width="2.29"/>
<line x1="495.3" y1="245" x2="524.5" y2="261" stroke="#1c1c1c" stroke-width="0.81"/>
<line x1="494.3" y1="250.5" x2="523.5" y2="266" stroke="#1c1c1c" stroke-width="1.62"/>
<line x1="495.5" y1="256.5" x2="524" y2="270.5" stroke="#1c1c1c" stroke-width="0.81"/>
<line x1="497.5" y1="260" x2="525.5" y2="273.5" stroke="#1c1c1c" stroke-width="0.81"/>
<ellipse cx="535.8" cy="260" rx="11.6" ry="16.2" stroke="#161616" stroke-width="1.35" fill="#fff" transform="rotate(22 535.8 260)"/>
<ellipse cx="536.2" cy="260" rx="10.2" ry="14.6" stroke="#333" stroke-width="2.43" fill="none" transform="rotate(22 536.2 260)"/>
<ellipse cx="536.2" cy="260" rx="10.2" ry="14.6" transform="rotate(22 536.2 260)" stroke="#fff" stroke-width="1.0" fill="none" stroke-dasharray="1.6 1.4"/>
<ellipse cx="536.6" cy="260" rx="8.6" ry="12.6" stroke="#161616" stroke-width="1.08" fill="none" transform="rotate(22 536.6 260)"/>
<path d="M533,250.5 L545,256 M531.5,258 L542.5,263.5 M531.5,265.5 L539.5,269.5" stroke="#161616" stroke-width="0.94" fill="none" />
<path d="M540.5,247.5 C543,248.5 544.5,250 545.5,252.5" stroke="#161616" stroke-width="0.94" fill="none" />
<ellipse cx="542.8" cy="250.2" rx="0.9" ry="1.1" stroke="#161616" stroke-width="0.81" fill="none"/>
<path d="M527.5,269.5 L527.8,274.8 C529,277.3 532,278 533.6,276.2 C534.2,274.5 533,273 531.2,273.2 L531,268.5" stroke="#161616" stroke-width="1.35" fill="#fff" />
<path d="M519,271.5 L519.2,274.5 L522,276 L522,273" stroke="#161616" stroke-width="1.08" fill="none" />
</g>
<g id="endpiece">
<path d="M568,295 L568.7,302.3 L572.9,307.9 L576.3,310.6 L583.2,310.6 L583.9,303.7 L587.3,300.3 L586,294 Z" stroke="#161616" stroke-width="1.35" fill="#fff" />
<path d="M571.5,298 L572,304 L576.5,308.5 M579.5,299.5 L579.8,306.5 L583.5,304 M572,298.5 L579.5,299.5" stroke="#161616" stroke-width="0.94" fill="none" />
<ellipse cx="575.6" cy="303.2" rx="2.3" ry="2.8" stroke="#161616" stroke-width="1.22" fill="#fff"/>
<ellipse cx="575.6" cy="303.2" rx="1.1" ry="1.4" stroke="#161616" stroke-width="0.81" fill="none"/>
<path d="M557,259 L588,276.9 C592,278.5 594.5,282.5 594.3,286.5 C594,292 590.5,297 586,298.3 C583.5,299 581,298.6 579,297.8 L568,296 L548.8,285.8 C546,283.5 544.6,282.5 544.6,281.7 C543.5,279 543.5,277 544,274.8 C545,270.5 546.5,267.5 548.8,265.2 C551,262.5 554,260 557,259 Z" stroke="#161616" stroke-width="1.35" fill="#fff" />
<path d="M589.4,276.9 C584.5,276.5 579,281 576.6,286.5 C575,291 576,295.5 579,297.8" stroke="#161616" stroke-width="1.35" fill="none" />
<path d="M571,291.5 L572.5,296.6" stroke="#161616" stroke-width="0.94" fill="none" />
<path d="M557,259 C553,262.5 550,268.5 549.6,275 C549.5,279.5 550.5,283 552.5,285.6" stroke="#161616" stroke-width="0.94" fill="none" />
<path d="M557.7,266.5 L560.5,263.8 L564.6,263.8 L570.8,267.9 L572.2,272 L568,276.2 L562.5,272.7 Z" stroke="#161616" stroke-width="1.35" fill="none" />
<path d="M562.5,264.5 L561.5,271.8 M567.5,266 L566.5,274.8 M564.6,263.8 L568.5,270 L568,276.2" stroke="#161616" stroke-width="0.94" fill="none" />
<path d="M550.8,279.6 L552.2,277.5 L555.7,277.5 L563.2,282.4 L563.2,285.8 L560.5,287.2 L554.3,284.4 Z" stroke="#161616" stroke-width="1.35" fill="none" />
<path d="M555.5,279.8 C554.5,280.5 554.6,282 555.6,282.6 L559.5,284.8 C560.8,285.2 561.6,284 560.8,283 L557,280.2 C556.5,279.8 556,279.6 555.5,279.8 Z" stroke="#161616" stroke-width="0.94" fill="none" />
</g>
<g id="labels">
<text transform="translate(303 78.3) scale(0.92 1)" font-size="12" font-weight="700" text-anchor="middle" fill="#111" stroke="#111" stroke-width="0.2">11</text>
<text transform="translate(378 93.5) scale(0.92 1)" font-size="12" font-weight="700" text-anchor="middle" fill="#111" stroke="#111" stroke-width="0.2">7</text>
<text transform="translate(351 108.5) scale(0.92 1)" font-size="12" font-weight="700" text-anchor="middle" fill="#111" stroke="#111" stroke-width="0.2">8</text>
<text transform="translate(374 121.5) scale(0.92 1)" font-size="12" font-weight="700" text-anchor="middle" fill="#111" stroke="#111" stroke-width="0.2">10</text>
<text transform="translate(493.8 134.9) scale(0.92 1)" font-size="12" font-weight="700" text-anchor="middle" fill="#111" stroke="#111" stroke-width="0.2">9</text>
<text transform="translate(519.5 146.7) scale(0.92 1)" font-size="12" font-weight="700" text-anchor="middle" fill="#111" stroke="#111" stroke-width="0.2">17</text>
<text transform="translate(541.3 223.9) scale(0.92 1)" font-size="12" font-weight="700" text-anchor="middle" fill="#111" stroke="#111" stroke-width="0.2">13</text>
<text transform="translate(480 265.5) scale(0.92 1)" font-size="12" font-weight="700" text-anchor="middle" fill="#111" stroke="#111" stroke-width="0.2">15</text>
<text transform="translate(446.7 275.2) scale(0.92 1)" font-size="12" font-weight="700" text-anchor="middle" fill="#111" stroke="#111" stroke-width="0.2">12</text>
<text transform="translate(394.5 300.5) scale(0.92 1)" font-size="12" font-weight="700" text-anchor="middle" fill="#111" stroke="#111" stroke-width="0.2">14</text>
<text transform="translate(477.5 330.0) scale(0.92 1)" font-size="12" font-weight="700" text-anchor="middle" fill="#111" stroke="#111" stroke-width="0.2">16</text>
<text transform="translate(157.5 251.0) scale(0.92 1)" font-size="12" font-weight="700" text-anchor="middle" fill="#111" stroke="#111" stroke-width="0.2">4</text>
<text transform="translate(179.5 264.5) scale(0.92 1)" font-size="12" font-weight="700" text-anchor="middle" fill="#111" stroke="#111" stroke-width="0.2">3</text>
<text transform="translate(193.4 272.3) scale(0.92 1)" font-size="12" font-weight="700" text-anchor="middle" fill="#111" stroke="#111" stroke-width="0.2">5</text>
<text transform="translate(211.5 308.3) scale(0.92 1)" font-size="12" font-weight="700" text-anchor="middle" fill="#111" stroke="#111" stroke-width="0.2">1</text>
<text transform="translate(255 309.0) scale(0.92 1)" font-size="12" font-weight="700" text-anchor="middle" fill="#111" stroke="#111" stroke-width="0.2">2</text>
<text transform="translate(281.3 324.1) scale(0.92 1)" font-size="12" font-weight="700" text-anchor="middle" fill="#111" stroke="#111" stroke-width="0.2">4</text>
<text transform="translate(319.6 345.5) scale(0.92 1)" font-size="12" font-weight="700" text-anchor="middle" fill="#111" stroke="#111" stroke-width="0.2">6</text>
<line x1="302.4" y1="80" x2="302.4" y2="98" stroke="#111" stroke-width="1.1"/>
<line x1="377.5" y1="95" x2="377.5" y2="104.5" stroke="#111" stroke-width="1.1"/>
<line x1="351.4" y1="91" x2="404.5" y2="121" stroke="#111" stroke-width="1.1"/>
<line x1="404.5" y1="121" x2="404.5" y2="140" stroke="#111" stroke-width="1.1"/>
<line x1="351.4" y1="91" x2="351.4" y2="96" stroke="#111" stroke-width="1.1"/>
<line x1="351.4" y1="110" x2="351.4" y2="140" stroke="#111" stroke-width="1.1"/>
<line x1="373.7" y1="104" x2="373.7" y2="109" stroke="#111" stroke-width="1.1"/>
<line x1="373.7" y1="124" x2="373.7" y2="133" stroke="#111" stroke-width="1.1"/>
<line x1="488" y1="134.3" x2="476.3" y2="140.8" stroke="#111" stroke-width="1.1"/>
<line x1="510.8" y1="146.6" x2="499.7" y2="153" stroke="#111" stroke-width="1.1"/>
<line x1="527.3" y1="206.3" x2="535.3" y2="210.3" stroke="#111" stroke-width="1.1"/>
<line x1="535.3" y1="210.3" x2="518.7" y2="220.3" stroke="#111" stroke-width="1.1"/>
<line x1="518.7" y1="220.3" x2="512" y2="217" stroke="#111" stroke-width="1.1"/>
<line x1="528.7" y1="216.3" x2="532" y2="217.7" stroke="#111" stroke-width="1.1"/>
<line x1="434.3" y1="257.7" x2="441" y2="262.3" stroke="#111" stroke-width="1.1"/>
<line x1="441" y1="262.3" x2="424.3" y2="271.7" stroke="#111" stroke-width="1.1"/>
<line x1="424.3" y1="271.7" x2="417.7" y2="267.7" stroke="#111" stroke-width="1.1"/>
<line x1="433.7" y1="267.7" x2="437.7" y2="269.7" stroke="#111" stroke-width="1.1"/>
<line x1="393.5" y1="281.7" x2="393.5" y2="289" stroke="#111" stroke-width="1.1"/>
<line x1="395" y1="308.5" x2="558.9" y2="308.5" stroke="#111" stroke-width="1.1"/>
<line x1="510.5" y1="271" x2="510.5" y2="308.5" stroke="#111" stroke-width="1.1"/>
<line x1="395.5" y1="302" x2="395.5" y2="308.5" stroke="#111" stroke-width="1.1"/>
<line x1="558.5" y1="293.4" x2="558.5" y2="308.5" stroke="#111" stroke-width="1.1"/>
<line x1="477.5" y1="308.5" x2="477.5" y2="317" stroke="#111" stroke-width="1.1"/>
<line x1="162.5" y1="243.5" x2="175" y2="237.5" stroke="#111" stroke-width="1.1"/>
<line x1="185" y1="256" x2="204" y2="246" stroke="#111" stroke-width="1.1"/>
<line x1="199" y1="264.5" x2="220" y2="254" stroke="#111" stroke-width="1.1"/>
<line x1="235" y1="272" x2="202.5" y2="287.5" stroke="#111" stroke-width="1.1"/>
<line x1="202.5" y1="287.5" x2="245" y2="311" stroke="#111" stroke-width="1.1"/>
<line x1="243.5" y1="282" x2="218.5" y2="298.5" stroke="#111" stroke-width="1.1"/>
<line x1="262.5" y1="298.5" x2="287.5" y2="286" stroke="#111" stroke-width="1.1"/>
<line x1="286.6" y1="316.4" x2="300.4" y2="309.5" stroke="#111" stroke-width="1.1"/>
<line x1="325.6" y1="338.6" x2="346" y2="329" stroke="#111" stroke-width="1.1"/>
<path d="M480,254 C479,250 481,247 484,244" stroke="#111" stroke-width="1.1" fill="none" />
<text transform="translate(598.2,468) rotate(-90)" font-size="6.15" fill="#111" stroke="#111" stroke-width="0.15" font-weight="400">4152-GET-0094-A0</text>
</g>
</g>
</svg>
</body></html>
